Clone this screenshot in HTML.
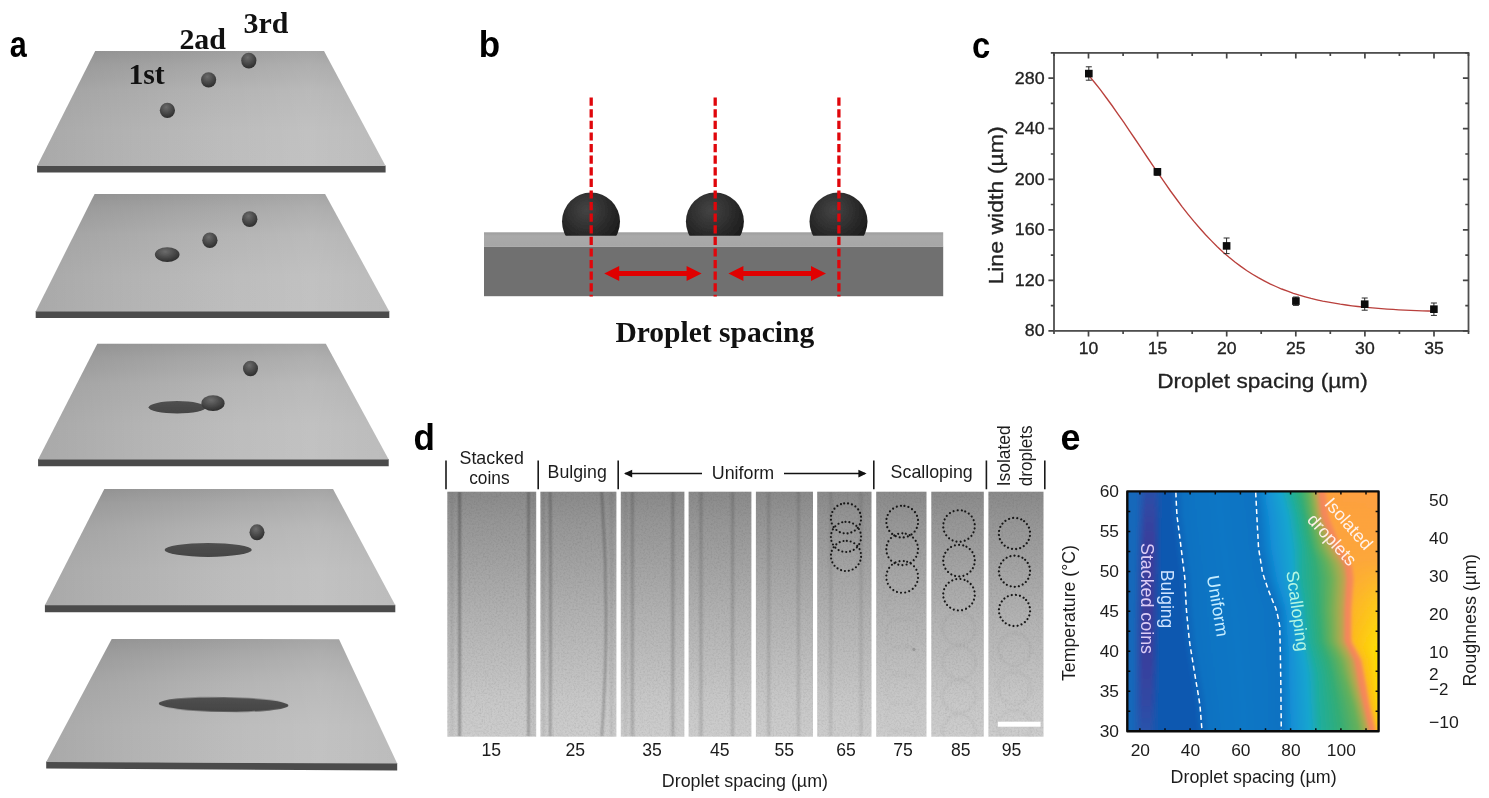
<!DOCTYPE html>
<html lang="en"><head><meta charset="utf-8"><title>Inkjet droplet spacing figure</title>
<style>
html,body{margin:0;padding:0;background:#fff;}
body{width:1489px;height:798px;overflow:hidden;font-family:"Liberation Sans",sans-serif;}
svg{display:block;}
</style></head><body>
<svg width="1489" height="798" viewBox="0 0 1489 798">
<defs>
<linearGradient id="plateV" x1="0" y1="0" x2="0" y2="1"><stop offset="0" stop-color="#9d9d9d"/><stop offset="0.12" stop-color="#a7a7a7"/><stop offset="0.35" stop-color="#b3b3b3"/><stop offset="0.7" stop-color="#bbbbbb"/><stop offset="1" stop-color="#bcbcbc"/></linearGradient>
<linearGradient id="plateH" x1="0" y1="0" x2="1" y2="0"><stop offset="0" stop-color="#000" stop-opacity="0.10"/><stop offset="0.4" stop-color="#000" stop-opacity="0.02"/><stop offset="0.55" stop-color="#fff" stop-opacity="0.02"/><stop offset="0.78" stop-color="#fff" stop-opacity="0.09"/><stop offset="1" stop-color="#fff" stop-opacity="0.0"/></linearGradient>
<radialGradient id="ball" cx="0.42" cy="0.3" r="0.72"><stop offset="0" stop-color="#6c6c6c"/><stop offset="0.5" stop-color="#4c4c4c"/><stop offset="1" stop-color="#2c2c2c"/></radialGradient>
<linearGradient id="flat" x1="0" y1="0" x2="0" y2="1"><stop offset="0" stop-color="#505050"/><stop offset="1" stop-color="#444444"/></linearGradient>
<filter id="soft" x="-5%" y="-5%" width="110%" height="110%"><feGaussianBlur stdDeviation="0.6"/></filter>
<filter id="soft4" x="-5%" y="-5%" width="110%" height="110%"><feGaussianBlur stdDeviation="0.45"/></filter>
<radialGradient id="dome" cx="0.42" cy="0.3" r="0.75"><stop offset="0" stop-color="#444444"/><stop offset="0.55" stop-color="#2a2a2a"/><stop offset="1" stop-color="#161616"/></radialGradient>
<clipPath id="domeclip"><rect x="470" y="150" width="500" height="85.8"/></clipPath>
<linearGradient id="subTop" x1="0" y1="0" x2="0" y2="1"><stop offset="0" stop-color="#9c9c9c"/><stop offset="0.25" stop-color="#a9a9a9"/><stop offset="1" stop-color="#a6a6a6"/></linearGradient>
<linearGradient id="stripG" x1="0" y1="0" x2="0" y2="1"><stop offset="0" stop-color="#8a8a8a"/><stop offset="0.12" stop-color="#969696"/><stop offset="0.5" stop-color="#b2b2b2"/><stop offset="0.85" stop-color="#c8c8c8"/><stop offset="1" stop-color="#cdcdcd"/></linearGradient>
<filter id="grain" x="0" y="0" width="100%" height="100%"><feTurbulence type="fractalNoise" baseFrequency="0.55" numOctaves="2" seed="7" result="n"/><feColorMatrix in="n" type="matrix" values="0 0 0 0 0.5  0 0 0 0 0.5  0 0 0 0 0.5  0.9 0.9 0 0 -0.78"/></filter>
<filter id="lblur" x="-20%" y="-2%" width="140%" height="104%"><feGaussianBlur stdDeviation="1.0 0.4"/></filter>
<filter id="cblur" x="-10%" y="-10%" width="120%" height="120%"><feGaussianBlur stdDeviation="1.1"/></filter>
<filter id="lblur2" x="-20%" y="-2%" width="140%" height="104%"><feGaussianBlur stdDeviation="1.3 0.4"/></filter>
<clipPath id="clip7"><rect x="876.2" y="491.7" width="50.3" height="245"/></clipPath>
<clipPath id="clip8"><rect x="931.3" y="491.7" width="52.5" height="245"/></clipPath>
<clipPath id="clip9"><rect x="988.4" y="491.7" width="55.1" height="245"/></clipPath>
<clipPath id="stripclip"><rect x="447.3" y="491.7" width="88.9" height="245.0"/><rect x="540.4" y="491.7" width="76.0" height="245.0"/><rect x="620.8" y="491.7" width="63.6" height="245.0"/><rect x="688.6" y="491.7" width="62.8" height="245.0"/><rect x="755.9" y="491.7" width="57.1" height="245.0"/><rect x="817.2" y="491.7" width="54.3" height="245.0"/><rect x="876.2" y="491.7" width="50.3" height="245.0"/><rect x="931.3" y="491.7" width="52.5" height="245.0"/><rect x="988.4" y="491.7" width="55.1" height="245.0"/></clipPath>
<linearGradient id="e0" gradientUnits="userSpaceOnUse" x1="1127.3" y1="0" x2="1378.6" y2="0"><stop offset="0.0000" stop-color="#1867ba"/><stop offset="0.0373" stop-color="#1867ba"/><stop offset="0.0751" stop-color="#2b4fa8"/><stop offset="0.1049" stop-color="#2b4fa8"/><stop offset="0.1407" stop-color="#0f58b0"/><stop offset="0.1694" stop-color="#0f58b0"/><stop offset="0.2251" stop-color="#0b72c2"/><stop offset="0.3629" stop-color="#0977c5"/><stop offset="0.5127" stop-color="#0b72c2"/><stop offset="0.5548" stop-color="#1390d6"/><stop offset="0.6104" stop-color="#17a6cf"/><stop offset="0.6518" stop-color="#1fae9c"/><stop offset="0.6888" stop-color="#32ae76"/><stop offset="0.7219" stop-color="#66b05a"/><stop offset="0.7416" stop-color="#9aae50"/><stop offset="0.7533" stop-color="#c4a250"/><stop offset="0.7672" stop-color="#f5865a"/><stop offset="0.7835" stop-color="#f98c56"/><stop offset="0.7959" stop-color="#ffa13e"/><stop offset="1.0000" stop-color="#ffa040"/></linearGradient>
<linearGradient id="e1" gradientUnits="userSpaceOnUse" x1="1127.3" y1="0" x2="1378.6" y2="0"><stop offset="0.0000" stop-color="#1867ba"/><stop offset="0.0370" stop-color="#1867ba"/><stop offset="0.0748" stop-color="#2c4ea7"/><stop offset="0.1047" stop-color="#2c4ea7"/><stop offset="0.1405" stop-color="#0f58b0"/><stop offset="0.1700" stop-color="#0f58b0"/><stop offset="0.2257" stop-color="#0b72c2"/><stop offset="0.3638" stop-color="#0977c5"/><stop offset="0.5137" stop-color="#0b72c2"/><stop offset="0.5568" stop-color="#1390d6"/><stop offset="0.6134" stop-color="#17a6cf"/><stop offset="0.6548" stop-color="#1fae9c"/><stop offset="0.6911" stop-color="#32ae76"/><stop offset="0.7234" stop-color="#66b05a"/><stop offset="0.7431" stop-color="#9aae50"/><stop offset="0.7548" stop-color="#c4a250"/><stop offset="0.7687" stop-color="#f5865a"/><stop offset="0.7851" stop-color="#f98c56"/><stop offset="0.7974" stop-color="#ffa13e"/><stop offset="1.0000" stop-color="#ffa13f"/></linearGradient>
<linearGradient id="e2" gradientUnits="userSpaceOnUse" x1="1127.3" y1="0" x2="1378.6" y2="0"><stop offset="0.0000" stop-color="#1867ba"/><stop offset="0.0368" stop-color="#1867ba"/><stop offset="0.0746" stop-color="#2d4ca6"/><stop offset="0.1044" stop-color="#2d4ca6"/><stop offset="0.1402" stop-color="#0f58b0"/><stop offset="0.1706" stop-color="#0f58b0"/><stop offset="0.2263" stop-color="#0b72c2"/><stop offset="0.3646" stop-color="#0977c5"/><stop offset="0.5148" stop-color="#0b72c2"/><stop offset="0.5589" stop-color="#1390d6"/><stop offset="0.6165" stop-color="#17a6cf"/><stop offset="0.6578" stop-color="#1fae9c"/><stop offset="0.6934" stop-color="#32ae76"/><stop offset="0.7249" stop-color="#66b05a"/><stop offset="0.7446" stop-color="#9aae50"/><stop offset="0.7562" stop-color="#c4a250"/><stop offset="0.7702" stop-color="#f5865a"/><stop offset="0.7866" stop-color="#f98c56"/><stop offset="0.7989" stop-color="#ffa23e"/><stop offset="1.0000" stop-color="#ffa13f"/></linearGradient>
<linearGradient id="e3" gradientUnits="userSpaceOnUse" x1="1127.3" y1="0" x2="1378.6" y2="0"><stop offset="0.0000" stop-color="#1867ba"/><stop offset="0.0365" stop-color="#1867ba"/><stop offset="0.0743" stop-color="#2f4ba5"/><stop offset="0.1042" stop-color="#2f4ba5"/><stop offset="0.1400" stop-color="#0f58b0"/><stop offset="0.1711" stop-color="#0f58b0"/><stop offset="0.2269" stop-color="#0b72c2"/><stop offset="0.3654" stop-color="#0977c5"/><stop offset="0.5158" stop-color="#0b72c2"/><stop offset="0.5609" stop-color="#1390d6"/><stop offset="0.6195" stop-color="#17a6cf"/><stop offset="0.6608" stop-color="#1fae9c"/><stop offset="0.6956" stop-color="#32ae76"/><stop offset="0.7264" stop-color="#66b05a"/><stop offset="0.7461" stop-color="#9aae50"/><stop offset="0.7577" stop-color="#c4a250"/><stop offset="0.7717" stop-color="#f5865a"/><stop offset="0.7881" stop-color="#f98c56"/><stop offset="0.8005" stop-color="#ffa23d"/><stop offset="1.0000" stop-color="#ffa13f"/></linearGradient>
<linearGradient id="e4" gradientUnits="userSpaceOnUse" x1="1127.3" y1="0" x2="1378.6" y2="0"><stop offset="0.0000" stop-color="#1867ba"/><stop offset="0.0363" stop-color="#1867ba"/><stop offset="0.0741" stop-color="#304aa4"/><stop offset="0.1039" stop-color="#304aa4"/><stop offset="0.1397" stop-color="#0f58b0"/><stop offset="0.1717" stop-color="#0f58b0"/><stop offset="0.2274" stop-color="#0b72c2"/><stop offset="0.3662" stop-color="#0977c5"/><stop offset="0.5169" stop-color="#0b72c2"/><stop offset="0.5629" stop-color="#1390d6"/><stop offset="0.6225" stop-color="#17a6cf"/><stop offset="0.6639" stop-color="#1fae9c"/><stop offset="0.6979" stop-color="#32ae76"/><stop offset="0.7280" stop-color="#66b05a"/><stop offset="0.7476" stop-color="#9aae50"/><stop offset="0.7592" stop-color="#c4a250"/><stop offset="0.7732" stop-color="#f5865a"/><stop offset="0.7897" stop-color="#f98c56"/><stop offset="0.8020" stop-color="#ffa23d"/><stop offset="1.0000" stop-color="#ffa23e"/></linearGradient>
<linearGradient id="e5" gradientUnits="userSpaceOnUse" x1="1127.3" y1="0" x2="1378.6" y2="0"><stop offset="0.0000" stop-color="#1867ba"/><stop offset="0.0360" stop-color="#1867ba"/><stop offset="0.0738" stop-color="#3149a3"/><stop offset="0.1037" stop-color="#3149a3"/><stop offset="0.1395" stop-color="#0f58b0"/><stop offset="0.1723" stop-color="#0f58b0"/><stop offset="0.2280" stop-color="#0b72c2"/><stop offset="0.3670" stop-color="#0977c5"/><stop offset="0.5179" stop-color="#0b72c2"/><stop offset="0.5650" stop-color="#1390d6"/><stop offset="0.6255" stop-color="#17a6cf"/><stop offset="0.6669" stop-color="#1fae9c"/><stop offset="0.7002" stop-color="#32ae76"/><stop offset="0.7295" stop-color="#66b05a"/><stop offset="0.7491" stop-color="#9aae50"/><stop offset="0.7607" stop-color="#c4a250"/><stop offset="0.7747" stop-color="#f5865a"/><stop offset="0.7912" stop-color="#f98c56"/><stop offset="0.8035" stop-color="#ffa23d"/><stop offset="1.0000" stop-color="#ffa23e"/></linearGradient>
<linearGradient id="e6" gradientUnits="userSpaceOnUse" x1="1127.3" y1="0" x2="1378.6" y2="0"><stop offset="0.0000" stop-color="#1867ba"/><stop offset="0.0358" stop-color="#1867ba"/><stop offset="0.0736" stop-color="#3247a3"/><stop offset="0.1034" stop-color="#3247a3"/><stop offset="0.1392" stop-color="#0f58b0"/><stop offset="0.1729" stop-color="#0f58b0"/><stop offset="0.2286" stop-color="#0b72c2"/><stop offset="0.3678" stop-color="#0977c5"/><stop offset="0.5190" stop-color="#0b72c2"/><stop offset="0.5670" stop-color="#1390d6"/><stop offset="0.6285" stop-color="#17a6cf"/><stop offset="0.6699" stop-color="#1fae9c"/><stop offset="0.7024" stop-color="#32ae76"/><stop offset="0.7310" stop-color="#66b05a"/><stop offset="0.7506" stop-color="#9aae50"/><stop offset="0.7622" stop-color="#c4a250"/><stop offset="0.7762" stop-color="#f5865a"/><stop offset="0.7927" stop-color="#f98c56"/><stop offset="0.8050" stop-color="#ffa23d"/><stop offset="1.0000" stop-color="#ffa23e"/></linearGradient>
<linearGradient id="e7" gradientUnits="userSpaceOnUse" x1="1127.3" y1="0" x2="1378.6" y2="0"><stop offset="0.0000" stop-color="#1867ba"/><stop offset="0.0355" stop-color="#1867ba"/><stop offset="0.0733" stop-color="#3346a2"/><stop offset="0.1032" stop-color="#3346a2"/><stop offset="0.1390" stop-color="#0f58b0"/><stop offset="0.1734" stop-color="#0f58b0"/><stop offset="0.2291" stop-color="#0b72c2"/><stop offset="0.3686" stop-color="#0977c5"/><stop offset="0.5201" stop-color="#0b72c2"/><stop offset="0.5690" stop-color="#1390d6"/><stop offset="0.6315" stop-color="#17a6cf"/><stop offset="0.6729" stop-color="#1fae9c"/><stop offset="0.7047" stop-color="#32ae76"/><stop offset="0.7326" stop-color="#66b05a"/><stop offset="0.7521" stop-color="#9aae50"/><stop offset="0.7636" stop-color="#c4a250"/><stop offset="0.7777" stop-color="#f5865a"/><stop offset="0.7942" stop-color="#f98c56"/><stop offset="0.8066" stop-color="#ffa33d"/><stop offset="1.0000" stop-color="#ffa33d"/></linearGradient>
<linearGradient id="e8" gradientUnits="userSpaceOnUse" x1="1127.3" y1="0" x2="1378.6" y2="0"><stop offset="0.0000" stop-color="#1867ba"/><stop offset="0.0353" stop-color="#1867ba"/><stop offset="0.0731" stop-color="#3445a1"/><stop offset="0.1029" stop-color="#3445a1"/><stop offset="0.1387" stop-color="#0f58b0"/><stop offset="0.1742" stop-color="#0f58b0"/><stop offset="0.2299" stop-color="#0b72c2"/><stop offset="0.3695" stop-color="#0977c5"/><stop offset="0.5211" stop-color="#0b72c2"/><stop offset="0.5708" stop-color="#1390d6"/><stop offset="0.6342" stop-color="#17a6cf"/><stop offset="0.6756" stop-color="#1fae9c"/><stop offset="0.7070" stop-color="#32ae76"/><stop offset="0.7344" stop-color="#66b05a"/><stop offset="0.7541" stop-color="#9aae50"/><stop offset="0.7658" stop-color="#c4a250"/><stop offset="0.7799" stop-color="#f5865a"/><stop offset="0.7964" stop-color="#f98c56"/><stop offset="0.8087" stop-color="#ffa33c"/><stop offset="1.0000" stop-color="#ffa33d"/></linearGradient>
<linearGradient id="e9" gradientUnits="userSpaceOnUse" x1="1127.3" y1="0" x2="1378.6" y2="0"><stop offset="0.0000" stop-color="#1867ba"/><stop offset="0.0350" stop-color="#1867ba"/><stop offset="0.0728" stop-color="#3444a0"/><stop offset="0.1027" stop-color="#3444a0"/><stop offset="0.1385" stop-color="#0f58b0"/><stop offset="0.1758" stop-color="#0f58b0"/><stop offset="0.2315" stop-color="#0b72c2"/><stop offset="0.3708" stop-color="#0977c5"/><stop offset="0.5220" stop-color="#0b72c2"/><stop offset="0.5719" stop-color="#1390d6"/><stop offset="0.6357" stop-color="#17a6cf"/><stop offset="0.6774" stop-color="#1fae9c"/><stop offset="0.7094" stop-color="#32ae76"/><stop offset="0.7373" stop-color="#66b05a"/><stop offset="0.7579" stop-color="#9aae50"/><stop offset="0.7705" stop-color="#c4a250"/><stop offset="0.7847" stop-color="#f5865a"/><stop offset="0.8012" stop-color="#f98c56"/><stop offset="0.8135" stop-color="#ffa33c"/><stop offset="1.0000" stop-color="#ffa33d"/></linearGradient>
<linearGradient id="e10" gradientUnits="userSpaceOnUse" x1="1127.3" y1="0" x2="1378.6" y2="0"><stop offset="0.0000" stop-color="#1867ba"/><stop offset="0.0348" stop-color="#1867ba"/><stop offset="0.0726" stop-color="#3543a0"/><stop offset="0.1024" stop-color="#3543a0"/><stop offset="0.1382" stop-color="#0f58b0"/><stop offset="0.1773" stop-color="#0f58b0"/><stop offset="0.2330" stop-color="#0b72c2"/><stop offset="0.3720" stop-color="#0977c5"/><stop offset="0.5230" stop-color="#0b72c2"/><stop offset="0.5730" stop-color="#1390d6"/><stop offset="0.6372" stop-color="#17a6cf"/><stop offset="0.6792" stop-color="#1fae9c"/><stop offset="0.7118" stop-color="#32ae76"/><stop offset="0.7403" stop-color="#66b05a"/><stop offset="0.7618" stop-color="#9aae50"/><stop offset="0.7753" stop-color="#c4a250"/><stop offset="0.7894" stop-color="#f5865a"/><stop offset="0.8059" stop-color="#f98c56"/><stop offset="0.8183" stop-color="#ffa33c"/><stop offset="1.0000" stop-color="#ffa43c"/></linearGradient>
<linearGradient id="e11" gradientUnits="userSpaceOnUse" x1="1127.3" y1="0" x2="1378.6" y2="0"><stop offset="0.0000" stop-color="#1867ba"/><stop offset="0.0345" stop-color="#1867ba"/><stop offset="0.0723" stop-color="#36429f"/><stop offset="0.1022" stop-color="#36429f"/><stop offset="0.1380" stop-color="#0f58b0"/><stop offset="0.1789" stop-color="#0f58b0"/><stop offset="0.2346" stop-color="#0b72c2"/><stop offset="0.3733" stop-color="#0977c5"/><stop offset="0.5239" stop-color="#0b72c2"/><stop offset="0.5740" stop-color="#1390d6"/><stop offset="0.6386" stop-color="#17a6cf"/><stop offset="0.6810" stop-color="#1fae9c"/><stop offset="0.7141" stop-color="#32ae76"/><stop offset="0.7433" stop-color="#66b05a"/><stop offset="0.7656" stop-color="#9aae50"/><stop offset="0.7800" stop-color="#c4a250"/><stop offset="0.7942" stop-color="#f5865a"/><stop offset="0.8107" stop-color="#f98c56"/><stop offset="0.8230" stop-color="#ffa43c"/><stop offset="1.0000" stop-color="#ffa43c"/></linearGradient>
<linearGradient id="e12" gradientUnits="userSpaceOnUse" x1="1127.3" y1="0" x2="1378.6" y2="0"><stop offset="0.0000" stop-color="#1867ba"/><stop offset="0.0343" stop-color="#1867ba"/><stop offset="0.0721" stop-color="#36429e"/><stop offset="0.1019" stop-color="#36429e"/><stop offset="0.1377" stop-color="#0f58b0"/><stop offset="0.1804" stop-color="#0f58b0"/><stop offset="0.2362" stop-color="#0b72c2"/><stop offset="0.3745" stop-color="#0977c5"/><stop offset="0.5249" stop-color="#0b72c2"/><stop offset="0.5751" stop-color="#1390d6"/><stop offset="0.6401" stop-color="#17a6cf"/><stop offset="0.6828" stop-color="#1fae9c"/><stop offset="0.7165" stop-color="#32ae76"/><stop offset="0.7462" stop-color="#66b05a"/><stop offset="0.7695" stop-color="#9aae50"/><stop offset="0.7848" stop-color="#c4a250"/><stop offset="0.7989" stop-color="#f5865a"/><stop offset="0.8154" stop-color="#f98c56"/><stop offset="0.8278" stop-color="#ffa43c"/><stop offset="1.0000" stop-color="#ffa43c"/></linearGradient>
<linearGradient id="e13" gradientUnits="userSpaceOnUse" x1="1127.3" y1="0" x2="1378.6" y2="0"><stop offset="0.0000" stop-color="#1867ba"/><stop offset="0.0340" stop-color="#1867ba"/><stop offset="0.0718" stop-color="#37419e"/><stop offset="0.1017" stop-color="#37419e"/><stop offset="0.1375" stop-color="#0f58b0"/><stop offset="0.1820" stop-color="#0f58b0"/><stop offset="0.2377" stop-color="#0b72c2"/><stop offset="0.3758" stop-color="#0977c5"/><stop offset="0.5258" stop-color="#0b72c2"/><stop offset="0.5762" stop-color="#1390d6"/><stop offset="0.6416" stop-color="#17a6cf"/><stop offset="0.6846" stop-color="#1fae9c"/><stop offset="0.7189" stop-color="#32ae76"/><stop offset="0.7492" stop-color="#66b05a"/><stop offset="0.7733" stop-color="#9aae50"/><stop offset="0.7895" stop-color="#c4a250"/><stop offset="0.8037" stop-color="#f5865a"/><stop offset="0.8202" stop-color="#f98c56"/><stop offset="0.8325" stop-color="#ffa43c"/><stop offset="1.0000" stop-color="#ffa53b"/></linearGradient>
<linearGradient id="e14" gradientUnits="userSpaceOnUse" x1="1127.3" y1="0" x2="1378.6" y2="0"><stop offset="0.0000" stop-color="#1867ba"/><stop offset="0.0338" stop-color="#1867ba"/><stop offset="0.0716" stop-color="#38409d"/><stop offset="0.1014" stop-color="#38409d"/><stop offset="0.1372" stop-color="#0f58b0"/><stop offset="0.1836" stop-color="#0f58b0"/><stop offset="0.2393" stop-color="#0b72c2"/><stop offset="0.3771" stop-color="#0977c5"/><stop offset="0.5268" stop-color="#0b72c2"/><stop offset="0.5772" stop-color="#1390d6"/><stop offset="0.6431" stop-color="#17a6cf"/><stop offset="0.6864" stop-color="#1fae9c"/><stop offset="0.7213" stop-color="#32ae76"/><stop offset="0.7522" stop-color="#66b05a"/><stop offset="0.7772" stop-color="#9aae50"/><stop offset="0.7943" stop-color="#c4a250"/><stop offset="0.8084" stop-color="#f5865a"/><stop offset="0.8249" stop-color="#f98c56"/><stop offset="0.8373" stop-color="#ffa43b"/><stop offset="1.0000" stop-color="#ffa53b"/></linearGradient>
<linearGradient id="e15" gradientUnits="userSpaceOnUse" x1="1127.3" y1="0" x2="1378.6" y2="0"><stop offset="0.0000" stop-color="#1867ba"/><stop offset="0.0335" stop-color="#1867ba"/><stop offset="0.0713" stop-color="#383f9c"/><stop offset="0.1011" stop-color="#383f9c"/><stop offset="0.1370" stop-color="#0f58b0"/><stop offset="0.1851" stop-color="#0f58b0"/><stop offset="0.2408" stop-color="#0b72c2"/><stop offset="0.3783" stop-color="#0977c5"/><stop offset="0.5277" stop-color="#0b72c2"/><stop offset="0.5783" stop-color="#1390d6"/><stop offset="0.6446" stop-color="#17a6cf"/><stop offset="0.6882" stop-color="#1fae9c"/><stop offset="0.7236" stop-color="#32ae76"/><stop offset="0.7551" stop-color="#66b05a"/><stop offset="0.7811" stop-color="#9aae50"/><stop offset="0.7990" stop-color="#c4a250"/><stop offset="0.8132" stop-color="#f5865a"/><stop offset="0.8297" stop-color="#f98c56"/><stop offset="0.8420" stop-color="#ffa43b"/><stop offset="1.0000" stop-color="#ffa53b"/></linearGradient>
<linearGradient id="e16" gradientUnits="userSpaceOnUse" x1="1127.3" y1="0" x2="1378.6" y2="0"><stop offset="0.0000" stop-color="#1867ba"/><stop offset="0.0332" stop-color="#1867ba"/><stop offset="0.0711" stop-color="#393e9c"/><stop offset="0.1009" stop-color="#393e9c"/><stop offset="0.1367" stop-color="#0f58b0"/><stop offset="0.1867" stop-color="#0f58b0"/><stop offset="0.2424" stop-color="#0b72c2"/><stop offset="0.3796" stop-color="#0977c5"/><stop offset="0.5287" stop-color="#0b72c2"/><stop offset="0.5794" stop-color="#1390d6"/><stop offset="0.6461" stop-color="#17a6cf"/><stop offset="0.6899" stop-color="#1fae9c"/><stop offset="0.7260" stop-color="#32ae76"/><stop offset="0.7581" stop-color="#66b05a"/><stop offset="0.7849" stop-color="#9aae50"/><stop offset="0.8038" stop-color="#c4a250"/><stop offset="0.8179" stop-color="#f5865a"/><stop offset="0.8344" stop-color="#f98c56"/><stop offset="0.8468" stop-color="#ffa53b"/><stop offset="1.0000" stop-color="#ffa63a"/></linearGradient>
<linearGradient id="e17" gradientUnits="userSpaceOnUse" x1="1127.3" y1="0" x2="1378.6" y2="0"><stop offset="0.0000" stop-color="#1867ba"/><stop offset="0.0330" stop-color="#1867ba"/><stop offset="0.0708" stop-color="#3a3d9b"/><stop offset="0.1006" stop-color="#3a3d9b"/><stop offset="0.1365" stop-color="#0f58b0"/><stop offset="0.1882" stop-color="#0f58b0"/><stop offset="0.2439" stop-color="#0b72c2"/><stop offset="0.3808" stop-color="#0977c5"/><stop offset="0.5296" stop-color="#0b72c2"/><stop offset="0.5804" stop-color="#1390d6"/><stop offset="0.6475" stop-color="#17a6cf"/><stop offset="0.6917" stop-color="#1fae9c"/><stop offset="0.7284" stop-color="#32ae76"/><stop offset="0.7611" stop-color="#66b05a"/><stop offset="0.7888" stop-color="#9aae50"/><stop offset="0.8085" stop-color="#c4a250"/><stop offset="0.8227" stop-color="#f5865a"/><stop offset="0.8392" stop-color="#f98c56"/><stop offset="0.8515" stop-color="#ffa53b"/><stop offset="1.0000" stop-color="#ffa63a"/></linearGradient>
<linearGradient id="e18" gradientUnits="userSpaceOnUse" x1="1127.3" y1="0" x2="1378.6" y2="0"><stop offset="0.0000" stop-color="#1867ba"/><stop offset="0.0327" stop-color="#1867ba"/><stop offset="0.0705" stop-color="#3a3d9b"/><stop offset="0.1004" stop-color="#3a3d9b"/><stop offset="0.1362" stop-color="#0f58b0"/><stop offset="0.1898" stop-color="#0f58b0"/><stop offset="0.2455" stop-color="#0b72c2"/><stop offset="0.3821" stop-color="#0977c5"/><stop offset="0.5306" stop-color="#0b72c2"/><stop offset="0.5815" stop-color="#1390d6"/><stop offset="0.6490" stop-color="#17a6cf"/><stop offset="0.6935" stop-color="#1fae9c"/><stop offset="0.7308" stop-color="#32ae76"/><stop offset="0.7640" stop-color="#66b05a"/><stop offset="0.7926" stop-color="#9aae50"/><stop offset="0.8133" stop-color="#c4a250"/><stop offset="0.8274" stop-color="#f5865a"/><stop offset="0.8439" stop-color="#f98c56"/><stop offset="0.8563" stop-color="#ffa53b"/><stop offset="1.0000" stop-color="#ffa63a"/></linearGradient>
<linearGradient id="e19" gradientUnits="userSpaceOnUse" x1="1127.3" y1="0" x2="1378.6" y2="0"><stop offset="0.0000" stop-color="#1867ba"/><stop offset="0.0325" stop-color="#1867ba"/><stop offset="0.0703" stop-color="#3a3d9b"/><stop offset="0.1001" stop-color="#3a3d9b"/><stop offset="0.1360" stop-color="#0f58b0"/><stop offset="0.1913" stop-color="#0f58b0"/><stop offset="0.2470" stop-color="#0b72c2"/><stop offset="0.3838" stop-color="#0977c5"/><stop offset="0.5326" stop-color="#0b72c2"/><stop offset="0.5833" stop-color="#1390d6"/><stop offset="0.6501" stop-color="#17a6cf"/><stop offset="0.6940" stop-color="#1fae9c"/><stop offset="0.7336" stop-color="#32ae76"/><stop offset="0.7692" stop-color="#66b05a"/><stop offset="0.7984" stop-color="#9aae50"/><stop offset="0.8197" stop-color="#c4a250"/><stop offset="0.8338" stop-color="#f5865a"/><stop offset="0.8503" stop-color="#f98c56"/><stop offset="0.8627" stop-color="#ffa53b"/><stop offset="1.0000" stop-color="#ffa739"/></linearGradient>
<linearGradient id="e20" gradientUnits="userSpaceOnUse" x1="1127.3" y1="0" x2="1378.6" y2="0"><stop offset="0.0000" stop-color="#1867ba"/><stop offset="0.0322" stop-color="#1867ba"/><stop offset="0.0700" stop-color="#3a3d9b"/><stop offset="0.0999" stop-color="#3a3d9b"/><stop offset="0.1357" stop-color="#0f58b0"/><stop offset="0.1927" stop-color="#0f58b0"/><stop offset="0.2484" stop-color="#0b72c2"/><stop offset="0.3857" stop-color="#0977c5"/><stop offset="0.5349" stop-color="#0b72c2"/><stop offset="0.5854" stop-color="#1390d6"/><stop offset="0.6510" stop-color="#17a6cf"/><stop offset="0.6940" stop-color="#1fae9c"/><stop offset="0.7366" stop-color="#32ae76"/><stop offset="0.7752" stop-color="#66b05a"/><stop offset="0.8049" stop-color="#9aae50"/><stop offset="0.8267" stop-color="#c4a250"/><stop offset="0.8408" stop-color="#f5865a"/><stop offset="0.8573" stop-color="#f98c56"/><stop offset="0.8696" stop-color="#ffa53a"/><stop offset="1.0000" stop-color="#ffa739"/></linearGradient>
<linearGradient id="e21" gradientUnits="userSpaceOnUse" x1="1127.3" y1="0" x2="1378.6" y2="0"><stop offset="0.0000" stop-color="#1867ba"/><stop offset="0.0320" stop-color="#1867ba"/><stop offset="0.0698" stop-color="#3a3d9b"/><stop offset="0.0996" stop-color="#3a3d9b"/><stop offset="0.1355" stop-color="#0f58b0"/><stop offset="0.1942" stop-color="#0f58b0"/><stop offset="0.2499" stop-color="#0b72c2"/><stop offset="0.3876" stop-color="#0977c5"/><stop offset="0.5373" stop-color="#0b72c2"/><stop offset="0.5875" stop-color="#1390d6"/><stop offset="0.6519" stop-color="#17a6cf"/><stop offset="0.6940" stop-color="#1fae9c"/><stop offset="0.7396" stop-color="#32ae76"/><stop offset="0.7811" stop-color="#66b05a"/><stop offset="0.8114" stop-color="#9aae50"/><stop offset="0.8337" stop-color="#c4a250"/><stop offset="0.8478" stop-color="#f5865a"/><stop offset="0.8643" stop-color="#f98c56"/><stop offset="0.8766" stop-color="#ffa63a"/><stop offset="1.0000" stop-color="#ffa838"/></linearGradient>
<linearGradient id="e22" gradientUnits="userSpaceOnUse" x1="1127.3" y1="0" x2="1378.6" y2="0"><stop offset="0.0000" stop-color="#1867ba"/><stop offset="0.0317" stop-color="#1867ba"/><stop offset="0.0695" stop-color="#3a3d9b"/><stop offset="0.0994" stop-color="#3a3d9b"/><stop offset="0.1352" stop-color="#0f58b0"/><stop offset="0.1956" stop-color="#0f58b0"/><stop offset="0.2513" stop-color="#0b72c2"/><stop offset="0.3895" stop-color="#0977c5"/><stop offset="0.5397" stop-color="#0b72c2"/><stop offset="0.5895" stop-color="#1390d6"/><stop offset="0.6528" stop-color="#17a6cf"/><stop offset="0.6940" stop-color="#1fae9c"/><stop offset="0.7425" stop-color="#32ae76"/><stop offset="0.7871" stop-color="#66b05a"/><stop offset="0.8179" stop-color="#9aae50"/><stop offset="0.8406" stop-color="#c4a250"/><stop offset="0.8548" stop-color="#f5865a"/><stop offset="0.8713" stop-color="#f98c56"/><stop offset="0.8836" stop-color="#ffa63a"/><stop offset="1.0000" stop-color="#ffa838"/></linearGradient>
<linearGradient id="e23" gradientUnits="userSpaceOnUse" x1="1127.3" y1="0" x2="1378.6" y2="0"><stop offset="0.0000" stop-color="#1867ba"/><stop offset="0.0315" stop-color="#1867ba"/><stop offset="0.0693" stop-color="#3a3d9b"/><stop offset="0.0991" stop-color="#3a3d9b"/><stop offset="0.1350" stop-color="#0f58b0"/><stop offset="0.1971" stop-color="#0f58b0"/><stop offset="0.2528" stop-color="#0b72c2"/><stop offset="0.3914" stop-color="#0977c5"/><stop offset="0.5420" stop-color="#0b72c2"/><stop offset="0.5916" stop-color="#1390d6"/><stop offset="0.6537" stop-color="#17a6cf"/><stop offset="0.6940" stop-color="#1fae9c"/><stop offset="0.7455" stop-color="#32ae76"/><stop offset="0.7931" stop-color="#66b05a"/><stop offset="0.8243" stop-color="#9aae50"/><stop offset="0.8476" stop-color="#c4a250"/><stop offset="0.8618" stop-color="#f5865a"/><stop offset="0.8783" stop-color="#f98c56"/><stop offset="0.8906" stop-color="#ffa739"/><stop offset="1.0000" stop-color="#ffaa37"/></linearGradient>
<linearGradient id="e24" gradientUnits="userSpaceOnUse" x1="1127.3" y1="0" x2="1378.6" y2="0"><stop offset="0.0000" stop-color="#1867ba"/><stop offset="0.0312" stop-color="#1867ba"/><stop offset="0.0690" stop-color="#3a3d9b"/><stop offset="0.0989" stop-color="#3a3d9b"/><stop offset="0.1347" stop-color="#0f58b0"/><stop offset="0.1985" stop-color="#0f58b0"/><stop offset="0.2542" stop-color="#0b72c2"/><stop offset="0.3933" stop-color="#0977c5"/><stop offset="0.5444" stop-color="#0b72c2"/><stop offset="0.5937" stop-color="#1390d6"/><stop offset="0.6546" stop-color="#17a6cf"/><stop offset="0.6940" stop-color="#1fae9c"/><stop offset="0.7476" stop-color="#32ae76"/><stop offset="0.7972" stop-color="#66b05a"/><stop offset="0.8299" stop-color="#9aae50"/><stop offset="0.8546" stop-color="#c4a250"/><stop offset="0.8687" stop-color="#f5865a"/><stop offset="0.8853" stop-color="#f98c56"/><stop offset="0.8976" stop-color="#ffa838"/><stop offset="1.0000" stop-color="#ffac35"/></linearGradient>
<linearGradient id="e25" gradientUnits="userSpaceOnUse" x1="1127.3" y1="0" x2="1378.6" y2="0"><stop offset="0.0000" stop-color="#1867ba"/><stop offset="0.0310" stop-color="#1867ba"/><stop offset="0.0688" stop-color="#3a3d9b"/><stop offset="0.0986" stop-color="#3a3d9b"/><stop offset="0.1344" stop-color="#0f58b0"/><stop offset="0.2000" stop-color="#0f58b0"/><stop offset="0.2557" stop-color="#0b72c2"/><stop offset="0.3953" stop-color="#0977c5"/><stop offset="0.5468" stop-color="#0b72c2"/><stop offset="0.5958" stop-color="#1390d6"/><stop offset="0.6555" stop-color="#17a6cf"/><stop offset="0.6940" stop-color="#1fae9c"/><stop offset="0.7488" stop-color="#32ae76"/><stop offset="0.7996" stop-color="#66b05a"/><stop offset="0.8333" stop-color="#9aae50"/><stop offset="0.8590" stop-color="#c4a250"/><stop offset="0.8732" stop-color="#f5865a"/><stop offset="0.8896" stop-color="#f98c56"/><stop offset="0.9020" stop-color="#ffa937"/><stop offset="1.0000" stop-color="#ffae32"/></linearGradient>
<linearGradient id="e26" gradientUnits="userSpaceOnUse" x1="1127.3" y1="0" x2="1378.6" y2="0"><stop offset="0.0000" stop-color="#1867ba"/><stop offset="0.0307" stop-color="#1867ba"/><stop offset="0.0685" stop-color="#3a3d9b"/><stop offset="0.0984" stop-color="#3a3d9b"/><stop offset="0.1342" stop-color="#0f58b0"/><stop offset="0.2014" stop-color="#0f58b0"/><stop offset="0.2571" stop-color="#0b72c2"/><stop offset="0.3972" stop-color="#0977c5"/><stop offset="0.5491" stop-color="#0b72c2"/><stop offset="0.5978" stop-color="#1390d6"/><stop offset="0.6564" stop-color="#17a6cf"/><stop offset="0.6940" stop-color="#1fae9c"/><stop offset="0.7500" stop-color="#32ae76"/><stop offset="0.8020" stop-color="#66b05a"/><stop offset="0.8353" stop-color="#9aae50"/><stop offset="0.8606" stop-color="#c4a250"/><stop offset="0.8746" stop-color="#f5865a"/><stop offset="0.8911" stop-color="#f98c56"/><stop offset="0.9034" stop-color="#ffaa36"/><stop offset="1.0000" stop-color="#ffb130"/></linearGradient>
<linearGradient id="e27" gradientUnits="userSpaceOnUse" x1="1127.3" y1="0" x2="1378.6" y2="0"><stop offset="0.0000" stop-color="#1867ba"/><stop offset="0.0305" stop-color="#1867ba"/><stop offset="0.0683" stop-color="#3a3d9b"/><stop offset="0.0981" stop-color="#3a3d9b"/><stop offset="0.1339" stop-color="#0f58b0"/><stop offset="0.2029" stop-color="#0f58b0"/><stop offset="0.2586" stop-color="#0b72c2"/><stop offset="0.3991" stop-color="#0977c5"/><stop offset="0.5515" stop-color="#0b72c2"/><stop offset="0.5999" stop-color="#1390d6"/><stop offset="0.6573" stop-color="#17a6cf"/><stop offset="0.6940" stop-color="#1fae9c"/><stop offset="0.7512" stop-color="#32ae76"/><stop offset="0.8045" stop-color="#66b05a"/><stop offset="0.8373" stop-color="#9aae50"/><stop offset="0.8621" stop-color="#c4a250"/><stop offset="0.8761" stop-color="#f5865a"/><stop offset="0.8925" stop-color="#f98c56"/><stop offset="0.9048" stop-color="#ffab34"/><stop offset="1.0000" stop-color="#ffb32e"/></linearGradient>
<linearGradient id="e28" gradientUnits="userSpaceOnUse" x1="1127.3" y1="0" x2="1378.6" y2="0"><stop offset="0.0000" stop-color="#1867ba"/><stop offset="0.0302" stop-color="#1867ba"/><stop offset="0.0680" stop-color="#3a3d9b"/><stop offset="0.0979" stop-color="#3a3d9b"/><stop offset="0.1337" stop-color="#0f58b0"/><stop offset="0.2043" stop-color="#0f58b0"/><stop offset="0.2600" stop-color="#0b72c2"/><stop offset="0.4010" stop-color="#0977c5"/><stop offset="0.5539" stop-color="#0b72c2"/><stop offset="0.6020" stop-color="#1390d6"/><stop offset="0.6581" stop-color="#17a6cf"/><stop offset="0.6940" stop-color="#1fae9c"/><stop offset="0.7524" stop-color="#32ae76"/><stop offset="0.8069" stop-color="#66b05a"/><stop offset="0.8392" stop-color="#9aae50"/><stop offset="0.8636" stop-color="#c4a250"/><stop offset="0.8776" stop-color="#f5865a"/><stop offset="0.8939" stop-color="#f98c56"/><stop offset="0.9063" stop-color="#ffac33"/><stop offset="1.0000" stop-color="#ffb62c"/></linearGradient>
<linearGradient id="e29" gradientUnits="userSpaceOnUse" x1="1127.3" y1="0" x2="1378.6" y2="0"><stop offset="0.0000" stop-color="#1867ba"/><stop offset="0.0300" stop-color="#1867ba"/><stop offset="0.0678" stop-color="#3a3d9b"/><stop offset="0.0976" stop-color="#3a3d9b"/><stop offset="0.1334" stop-color="#0f58b0"/><stop offset="0.2055" stop-color="#0f58b0"/><stop offset="0.2612" stop-color="#0b72c2"/><stop offset="0.4030" stop-color="#0977c5"/><stop offset="0.5568" stop-color="#0b72c2"/><stop offset="0.6045" stop-color="#1390d6"/><stop offset="0.6594" stop-color="#17a6cf"/><stop offset="0.6945" stop-color="#1fae9c"/><stop offset="0.7535" stop-color="#32ae76"/><stop offset="0.8084" stop-color="#66b05a"/><stop offset="0.8404" stop-color="#9aae50"/><stop offset="0.8645" stop-color="#c4a250"/><stop offset="0.8784" stop-color="#f5865a"/><stop offset="0.8947" stop-color="#f98c56"/><stop offset="0.9070" stop-color="#ffad32"/><stop offset="1.0000" stop-color="#ffb82a"/></linearGradient>
<linearGradient id="e30" gradientUnits="userSpaceOnUse" x1="1127.3" y1="0" x2="1378.6" y2="0"><stop offset="0.0000" stop-color="#1867ba"/><stop offset="0.0297" stop-color="#1867ba"/><stop offset="0.0675" stop-color="#3a3d9b"/><stop offset="0.0974" stop-color="#3a3d9b"/><stop offset="0.1332" stop-color="#0f58b0"/><stop offset="0.2061" stop-color="#0f58b0"/><stop offset="0.2618" stop-color="#0b72c2"/><stop offset="0.4054" stop-color="#0977c5"/><stop offset="0.5610" stop-color="#0b72c2"/><stop offset="0.6078" stop-color="#1390d6"/><stop offset="0.6615" stop-color="#17a6cf"/><stop offset="0.6963" stop-color="#1fae9c"/><stop offset="0.7541" stop-color="#32ae76"/><stop offset="0.8078" stop-color="#66b05a"/><stop offset="0.8398" stop-color="#9aae50"/><stop offset="0.8639" stop-color="#c4a250"/><stop offset="0.8777" stop-color="#f5865a"/><stop offset="0.8939" stop-color="#f98c56"/><stop offset="0.9062" stop-color="#ffae31"/><stop offset="1.0000" stop-color="#ffba28"/></linearGradient>
<linearGradient id="e31" gradientUnits="userSpaceOnUse" x1="1127.3" y1="0" x2="1378.6" y2="0"><stop offset="0.0000" stop-color="#1867ba"/><stop offset="0.0295" stop-color="#1867ba"/><stop offset="0.0673" stop-color="#3a3d9b"/><stop offset="0.0971" stop-color="#3a3d9b"/><stop offset="0.1329" stop-color="#0f58b0"/><stop offset="0.2066" stop-color="#0f58b0"/><stop offset="0.2624" stop-color="#0b72c2"/><stop offset="0.4078" stop-color="#0977c5"/><stop offset="0.5652" stop-color="#0b72c2"/><stop offset="0.6111" stop-color="#1390d6"/><stop offset="0.6636" stop-color="#17a6cf"/><stop offset="0.6981" stop-color="#1fae9c"/><stop offset="0.7546" stop-color="#32ae76"/><stop offset="0.8072" stop-color="#66b05a"/><stop offset="0.8392" stop-color="#9aae50"/><stop offset="0.8633" stop-color="#c4a250"/><stop offset="0.8770" stop-color="#f5865a"/><stop offset="0.8930" stop-color="#f98c56"/><stop offset="0.9054" stop-color="#ffaf30"/><stop offset="1.0000" stop-color="#ffbd26"/></linearGradient>
<linearGradient id="e32" gradientUnits="userSpaceOnUse" x1="1127.3" y1="0" x2="1378.6" y2="0"><stop offset="0.0000" stop-color="#1867ba"/><stop offset="0.0292" stop-color="#1867ba"/><stop offset="0.0670" stop-color="#3a3d9b"/><stop offset="0.0969" stop-color="#3a3d9b"/><stop offset="0.1327" stop-color="#0f58b0"/><stop offset="0.2072" stop-color="#0f58b0"/><stop offset="0.2629" stop-color="#0b72c2"/><stop offset="0.4102" stop-color="#0977c5"/><stop offset="0.5694" stop-color="#0b72c2"/><stop offset="0.6143" stop-color="#1390d6"/><stop offset="0.6657" stop-color="#17a6cf"/><stop offset="0.6999" stop-color="#1fae9c"/><stop offset="0.7552" stop-color="#32ae76"/><stop offset="0.8066" stop-color="#66b05a"/><stop offset="0.8386" stop-color="#9aae50"/><stop offset="0.8627" stop-color="#c4a250"/><stop offset="0.8762" stop-color="#f5865a"/><stop offset="0.8922" stop-color="#f98c56"/><stop offset="0.9045" stop-color="#ffb02e"/><stop offset="1.0000" stop-color="#ffbf24"/></linearGradient>
<linearGradient id="e33" gradientUnits="userSpaceOnUse" x1="1127.3" y1="0" x2="1378.6" y2="0"><stop offset="0.0000" stop-color="#1867ba"/><stop offset="0.0290" stop-color="#1867ba"/><stop offset="0.0668" stop-color="#3a3d9b"/><stop offset="0.0966" stop-color="#3a3d9b"/><stop offset="0.1324" stop-color="#0f58b0"/><stop offset="0.2078" stop-color="#0f58b0"/><stop offset="0.2635" stop-color="#0b72c2"/><stop offset="0.4126" stop-color="#0977c5"/><stop offset="0.5736" stop-color="#0b72c2"/><stop offset="0.6176" stop-color="#1390d6"/><stop offset="0.6678" stop-color="#17a6cf"/><stop offset="0.7017" stop-color="#1fae9c"/><stop offset="0.7558" stop-color="#32ae76"/><stop offset="0.8060" stop-color="#66b05a"/><stop offset="0.8380" stop-color="#9aae50"/><stop offset="0.8621" stop-color="#c4a250"/><stop offset="0.8755" stop-color="#f5865a"/><stop offset="0.8913" stop-color="#f98c56"/><stop offset="0.9037" stop-color="#ffb12d"/><stop offset="1.0000" stop-color="#ffc222"/></linearGradient>
<linearGradient id="e34" gradientUnits="userSpaceOnUse" x1="1127.3" y1="0" x2="1378.6" y2="0"><stop offset="0.0000" stop-color="#1867ba"/><stop offset="0.0287" stop-color="#1867ba"/><stop offset="0.0665" stop-color="#3a3d9b"/><stop offset="0.0964" stop-color="#3a3d9b"/><stop offset="0.1322" stop-color="#0f58b0"/><stop offset="0.2084" stop-color="#0f58b0"/><stop offset="0.2641" stop-color="#0b72c2"/><stop offset="0.4149" stop-color="#0977c5"/><stop offset="0.5777" stop-color="#0b72c2"/><stop offset="0.6209" stop-color="#1390d6"/><stop offset="0.6699" stop-color="#17a6cf"/><stop offset="0.7035" stop-color="#1fae9c"/><stop offset="0.7564" stop-color="#32ae76"/><stop offset="0.8054" stop-color="#66b05a"/><stop offset="0.8374" stop-color="#9aae50"/><stop offset="0.8615" stop-color="#c4a250"/><stop offset="0.8748" stop-color="#f5865a"/><stop offset="0.8905" stop-color="#f98c56"/><stop offset="0.9028" stop-color="#ffb22c"/><stop offset="1.0000" stop-color="#ffc420"/></linearGradient>
<linearGradient id="e35" gradientUnits="userSpaceOnUse" x1="1127.3" y1="0" x2="1378.6" y2="0"><stop offset="0.0000" stop-color="#1867ba"/><stop offset="0.0285" stop-color="#1867ba"/><stop offset="0.0663" stop-color="#3a3d9b"/><stop offset="0.0961" stop-color="#3a3d9b"/><stop offset="0.1319" stop-color="#0f58b0"/><stop offset="0.2089" stop-color="#0f58b0"/><stop offset="0.2646" stop-color="#0b72c2"/><stop offset="0.4173" stop-color="#0977c5"/><stop offset="0.5819" stop-color="#0b72c2"/><stop offset="0.6242" stop-color="#1390d6"/><stop offset="0.6720" stop-color="#17a6cf"/><stop offset="0.7053" stop-color="#1fae9c"/><stop offset="0.7570" stop-color="#32ae76"/><stop offset="0.8048" stop-color="#66b05a"/><stop offset="0.8368" stop-color="#9aae50"/><stop offset="0.8609" stop-color="#c4a250"/><stop offset="0.8741" stop-color="#f5865a"/><stop offset="0.8897" stop-color="#f98c56"/><stop offset="0.9020" stop-color="#ffb32b"/><stop offset="1.0000" stop-color="#ffc61d"/></linearGradient>
<linearGradient id="e36" gradientUnits="userSpaceOnUse" x1="1127.3" y1="0" x2="1378.6" y2="0"><stop offset="0.0000" stop-color="#1867ba"/><stop offset="0.0282" stop-color="#1867ba"/><stop offset="0.0660" stop-color="#3a3d9b"/><stop offset="0.0959" stop-color="#3a3d9b"/><stop offset="0.1317" stop-color="#0f58b0"/><stop offset="0.2095" stop-color="#0f58b0"/><stop offset="0.2652" stop-color="#0b72c2"/><stop offset="0.4197" stop-color="#0977c5"/><stop offset="0.5861" stop-color="#0b72c2"/><stop offset="0.6275" stop-color="#1390d6"/><stop offset="0.6741" stop-color="#17a6cf"/><stop offset="0.7071" stop-color="#1fae9c"/><stop offset="0.7576" stop-color="#32ae76"/><stop offset="0.8041" stop-color="#66b05a"/><stop offset="0.8362" stop-color="#9aae50"/><stop offset="0.8602" stop-color="#c4a250"/><stop offset="0.8733" stop-color="#f5865a"/><stop offset="0.8888" stop-color="#f98c56"/><stop offset="0.9012" stop-color="#ffb42a"/><stop offset="1.0000" stop-color="#ffc81b"/></linearGradient>
<linearGradient id="e37" gradientUnits="userSpaceOnUse" x1="1127.3" y1="0" x2="1378.6" y2="0"><stop offset="0.0000" stop-color="#1867ba"/><stop offset="0.0280" stop-color="#1867ba"/><stop offset="0.0658" stop-color="#3a3d9b"/><stop offset="0.0956" stop-color="#3a3d9b"/><stop offset="0.1314" stop-color="#0f58b0"/><stop offset="0.2101" stop-color="#0f58b0"/><stop offset="0.2658" stop-color="#0b72c2"/><stop offset="0.4221" stop-color="#0977c5"/><stop offset="0.5903" stop-color="#0b72c2"/><stop offset="0.6308" stop-color="#1390d6"/><stop offset="0.6762" stop-color="#17a6cf"/><stop offset="0.7089" stop-color="#1fae9c"/><stop offset="0.7582" stop-color="#32ae76"/><stop offset="0.8035" stop-color="#66b05a"/><stop offset="0.8356" stop-color="#9aae50"/><stop offset="0.8596" stop-color="#c4a250"/><stop offset="0.8726" stop-color="#f5865a"/><stop offset="0.8880" stop-color="#f98c56"/><stop offset="0.9003" stop-color="#ffb529"/><stop offset="1.0000" stop-color="#ffca1a"/></linearGradient>
<linearGradient id="e38" gradientUnits="userSpaceOnUse" x1="1127.3" y1="0" x2="1378.6" y2="0"><stop offset="0.0000" stop-color="#1867ba"/><stop offset="0.0277" stop-color="#1867ba"/><stop offset="0.0655" stop-color="#3a3d9b"/><stop offset="0.0954" stop-color="#3a3d9b"/><stop offset="0.1312" stop-color="#0f58b0"/><stop offset="0.2107" stop-color="#0f58b0"/><stop offset="0.2664" stop-color="#0b72c2"/><stop offset="0.4245" stop-color="#0977c5"/><stop offset="0.5945" stop-color="#0b72c2"/><stop offset="0.6341" stop-color="#1390d6"/><stop offset="0.6783" stop-color="#17a6cf"/><stop offset="0.7107" stop-color="#1fae9c"/><stop offset="0.7588" stop-color="#32ae76"/><stop offset="0.8029" stop-color="#66b05a"/><stop offset="0.8350" stop-color="#9aae50"/><stop offset="0.8590" stop-color="#c4a250"/><stop offset="0.8719" stop-color="#f5865a"/><stop offset="0.8871" stop-color="#f98c56"/><stop offset="0.8995" stop-color="#ffb528"/><stop offset="1.0000" stop-color="#ffcb18"/></linearGradient>
<linearGradient id="e39" gradientUnits="userSpaceOnUse" x1="1127.3" y1="0" x2="1378.6" y2="0"><stop offset="0.0000" stop-color="#1867ba"/><stop offset="0.0275" stop-color="#1867ba"/><stop offset="0.0653" stop-color="#3a3d9b"/><stop offset="0.0951" stop-color="#3a3d9b"/><stop offset="0.1309" stop-color="#0f58b0"/><stop offset="0.2112" stop-color="#0f58b0"/><stop offset="0.2669" stop-color="#0b72c2"/><stop offset="0.4269" stop-color="#0977c5"/><stop offset="0.5987" stop-color="#0b72c2"/><stop offset="0.6374" stop-color="#1390d6"/><stop offset="0.6804" stop-color="#17a6cf"/><stop offset="0.7125" stop-color="#1fae9c"/><stop offset="0.7594" stop-color="#32ae76"/><stop offset="0.8023" stop-color="#66b05a"/><stop offset="0.8343" stop-color="#9aae50"/><stop offset="0.8584" stop-color="#c4a250"/><stop offset="0.8712" stop-color="#f5865a"/><stop offset="0.8863" stop-color="#f98c56"/><stop offset="0.8986" stop-color="#ffb626"/><stop offset="1.0000" stop-color="#ffcd16"/></linearGradient>
<linearGradient id="e40" gradientUnits="userSpaceOnUse" x1="1127.3" y1="0" x2="1378.6" y2="0"><stop offset="0.0000" stop-color="#1867ba"/><stop offset="0.0273" stop-color="#1867ba"/><stop offset="0.0651" stop-color="#3a3d9b"/><stop offset="0.0950" stop-color="#3a3d9b"/><stop offset="0.1308" stop-color="#0f58b0"/><stop offset="0.2123" stop-color="#0f58b0"/><stop offset="0.2680" stop-color="#0b72c2"/><stop offset="0.4280" stop-color="#0977c5"/><stop offset="0.5998" stop-color="#0b72c2"/><stop offset="0.6387" stop-color="#1390d6"/><stop offset="0.6817" stop-color="#17a6cf"/><stop offset="0.7137" stop-color="#1fae9c"/><stop offset="0.7602" stop-color="#32ae76"/><stop offset="0.8028" stop-color="#66b05a"/><stop offset="0.8345" stop-color="#9aae50"/><stop offset="0.8583" stop-color="#c4a250"/><stop offset="0.8711" stop-color="#f5865a"/><stop offset="0.8862" stop-color="#f98c56"/><stop offset="0.8985" stop-color="#ffb725"/><stop offset="1.0000" stop-color="#ffce15"/></linearGradient>
<linearGradient id="e41" gradientUnits="userSpaceOnUse" x1="1127.3" y1="0" x2="1378.6" y2="0"><stop offset="0.0000" stop-color="#1867ba"/><stop offset="0.0271" stop-color="#1867ba"/><stop offset="0.0650" stop-color="#3a3d9b"/><stop offset="0.0948" stop-color="#3a3d9b"/><stop offset="0.1306" stop-color="#0f58b0"/><stop offset="0.2135" stop-color="#0f58b0"/><stop offset="0.2692" stop-color="#0b72c2"/><stop offset="0.4289" stop-color="#0977c5"/><stop offset="0.6004" stop-color="#0b72c2"/><stop offset="0.6396" stop-color="#1390d6"/><stop offset="0.6829" stop-color="#17a6cf"/><stop offset="0.7149" stop-color="#1fae9c"/><stop offset="0.7611" stop-color="#32ae76"/><stop offset="0.8034" stop-color="#66b05a"/><stop offset="0.8348" stop-color="#9aae50"/><stop offset="0.8583" stop-color="#c4a250"/><stop offset="0.8711" stop-color="#f5865a"/><stop offset="0.8862" stop-color="#f98c56"/><stop offset="0.8985" stop-color="#ffb724"/><stop offset="1.0000" stop-color="#ffd013"/></linearGradient>
<linearGradient id="e42" gradientUnits="userSpaceOnUse" x1="1127.3" y1="0" x2="1378.6" y2="0"><stop offset="0.0000" stop-color="#1867ba"/><stop offset="0.0270" stop-color="#1867ba"/><stop offset="0.0648" stop-color="#3a3d9b"/><stop offset="0.0946" stop-color="#3a3d9b"/><stop offset="0.1305" stop-color="#0f58b0"/><stop offset="0.2147" stop-color="#0f58b0"/><stop offset="0.2704" stop-color="#0b72c2"/><stop offset="0.4297" stop-color="#0977c5"/><stop offset="0.6010" stop-color="#0b72c2"/><stop offset="0.6405" stop-color="#1390d6"/><stop offset="0.6840" stop-color="#17a6cf"/><stop offset="0.7161" stop-color="#1fae9c"/><stop offset="0.7620" stop-color="#32ae76"/><stop offset="0.8040" stop-color="#66b05a"/><stop offset="0.8351" stop-color="#9aae50"/><stop offset="0.8583" stop-color="#c4a250"/><stop offset="0.8711" stop-color="#f5865a"/><stop offset="0.8862" stop-color="#f98c56"/><stop offset="0.8985" stop-color="#ffb823"/><stop offset="1.0000" stop-color="#ffd111"/></linearGradient>
<linearGradient id="e43" gradientUnits="userSpaceOnUse" x1="1127.3" y1="0" x2="1378.6" y2="0"><stop offset="0.0000" stop-color="#1867ba"/><stop offset="0.0268" stop-color="#1867ba"/><stop offset="0.0646" stop-color="#3a3d9b"/><stop offset="0.0945" stop-color="#3a3d9b"/><stop offset="0.1303" stop-color="#0f58b0"/><stop offset="0.2159" stop-color="#0f58b0"/><stop offset="0.2716" stop-color="#0b72c2"/><stop offset="0.4306" stop-color="#0977c5"/><stop offset="0.6016" stop-color="#0b72c2"/><stop offset="0.6413" stop-color="#1390d6"/><stop offset="0.6852" stop-color="#17a6cf"/><stop offset="0.7173" stop-color="#1fae9c"/><stop offset="0.7629" stop-color="#32ae76"/><stop offset="0.8046" stop-color="#66b05a"/><stop offset="0.8354" stop-color="#9aae50"/><stop offset="0.8583" stop-color="#c4a250"/><stop offset="0.8711" stop-color="#f5865a"/><stop offset="0.8862" stop-color="#f98c56"/><stop offset="0.8985" stop-color="#ffb822"/><stop offset="1.0000" stop-color="#ffd310"/></linearGradient>
<linearGradient id="e44" gradientUnits="userSpaceOnUse" x1="1127.3" y1="0" x2="1378.6" y2="0"><stop offset="0.0000" stop-color="#1867ba"/><stop offset="0.0267" stop-color="#1867ba"/><stop offset="0.0645" stop-color="#3a3d9b"/><stop offset="0.0943" stop-color="#3a3d9b"/><stop offset="0.1301" stop-color="#0f58b0"/><stop offset="0.2171" stop-color="#0f58b0"/><stop offset="0.2728" stop-color="#0b72c2"/><stop offset="0.4315" stop-color="#0977c5"/><stop offset="0.6023" stop-color="#0b72c2"/><stop offset="0.6422" stop-color="#1390d6"/><stop offset="0.6864" stop-color="#17a6cf"/><stop offset="0.7184" stop-color="#1fae9c"/><stop offset="0.7638" stop-color="#32ae76"/><stop offset="0.8052" stop-color="#66b05a"/><stop offset="0.8357" stop-color="#9aae50"/><stop offset="0.8583" stop-color="#c4a250"/><stop offset="0.8711" stop-color="#f5865a"/><stop offset="0.8862" stop-color="#f98c56"/><stop offset="0.8985" stop-color="#ffb921"/><stop offset="1.0000" stop-color="#ffd40e"/></linearGradient>
<linearGradient id="e45" gradientUnits="userSpaceOnUse" x1="1127.3" y1="0" x2="1378.6" y2="0"><stop offset="0.0000" stop-color="#1867ba"/><stop offset="0.0265" stop-color="#1867ba"/><stop offset="0.0643" stop-color="#3a3d9b"/><stop offset="0.0942" stop-color="#3a3d9b"/><stop offset="0.1300" stop-color="#0f58b0"/><stop offset="0.2182" stop-color="#0f58b0"/><stop offset="0.2739" stop-color="#0b72c2"/><stop offset="0.4324" stop-color="#0977c5"/><stop offset="0.6029" stop-color="#0b72c2"/><stop offset="0.6431" stop-color="#1390d6"/><stop offset="0.6876" stop-color="#17a6cf"/><stop offset="0.7196" stop-color="#1fae9c"/><stop offset="0.7647" stop-color="#32ae76"/><stop offset="0.8058" stop-color="#66b05a"/><stop offset="0.8361" stop-color="#9aae50"/><stop offset="0.8583" stop-color="#c4a250"/><stop offset="0.8711" stop-color="#f5865a"/><stop offset="0.8862" stop-color="#f98c56"/><stop offset="0.8985" stop-color="#ffba20"/><stop offset="1.0000" stop-color="#ffd60c"/></linearGradient>
<linearGradient id="e46" gradientUnits="userSpaceOnUse" x1="1127.3" y1="0" x2="1378.6" y2="0"><stop offset="0.0000" stop-color="#1867ba"/><stop offset="0.0264" stop-color="#1867ba"/><stop offset="0.0642" stop-color="#3a3d9b"/><stop offset="0.0940" stop-color="#3a3d9b"/><stop offset="0.1298" stop-color="#0f58b0"/><stop offset="0.2194" stop-color="#0f58b0"/><stop offset="0.2751" stop-color="#0b72c2"/><stop offset="0.4333" stop-color="#0977c5"/><stop offset="0.6035" stop-color="#0b72c2"/><stop offset="0.6440" stop-color="#1390d6"/><stop offset="0.6888" stop-color="#17a6cf"/><stop offset="0.7208" stop-color="#1fae9c"/><stop offset="0.7656" stop-color="#32ae76"/><stop offset="0.8064" stop-color="#66b05a"/><stop offset="0.8364" stop-color="#9aae50"/><stop offset="0.8583" stop-color="#c4a250"/><stop offset="0.8711" stop-color="#f5865a"/><stop offset="0.8862" stop-color="#f98c56"/><stop offset="0.8985" stop-color="#ffba1f"/><stop offset="1.0000" stop-color="#ffd70b"/></linearGradient>
<linearGradient id="e47" gradientUnits="userSpaceOnUse" x1="1127.3" y1="0" x2="1378.6" y2="0"><stop offset="0.0000" stop-color="#1867ba"/><stop offset="0.0262" stop-color="#1867ba"/><stop offset="0.0640" stop-color="#3a3d9b"/><stop offset="0.0938" stop-color="#3a3d9b"/><stop offset="0.1297" stop-color="#0f58b0"/><stop offset="0.2206" stop-color="#0f58b0"/><stop offset="0.2763" stop-color="#0b72c2"/><stop offset="0.4342" stop-color="#0977c5"/><stop offset="0.6041" stop-color="#0b72c2"/><stop offset="0.6449" stop-color="#1390d6"/><stop offset="0.6900" stop-color="#17a6cf"/><stop offset="0.7220" stop-color="#1fae9c"/><stop offset="0.7665" stop-color="#32ae76"/><stop offset="0.8070" stop-color="#66b05a"/><stop offset="0.8367" stop-color="#9aae50"/><stop offset="0.8583" stop-color="#c4a250"/><stop offset="0.8711" stop-color="#f5865a"/><stop offset="0.8862" stop-color="#f98c56"/><stop offset="0.8985" stop-color="#ffbb1e"/><stop offset="1.0000" stop-color="#ffd909"/></linearGradient>
<linearGradient id="e48" gradientUnits="userSpaceOnUse" x1="1127.3" y1="0" x2="1378.6" y2="0"><stop offset="0.0000" stop-color="#1867ba"/><stop offset="0.0260" stop-color="#1867ba"/><stop offset="0.0638" stop-color="#3a3d9b"/><stop offset="0.0937" stop-color="#3a3d9b"/><stop offset="0.1295" stop-color="#0f58b0"/><stop offset="0.2218" stop-color="#0f58b0"/><stop offset="0.2775" stop-color="#0b72c2"/><stop offset="0.4351" stop-color="#0977c5"/><stop offset="0.6047" stop-color="#0b72c2"/><stop offset="0.6458" stop-color="#1390d6"/><stop offset="0.6911" stop-color="#17a6cf"/><stop offset="0.7232" stop-color="#1fae9c"/><stop offset="0.7674" stop-color="#32ae76"/><stop offset="0.8076" stop-color="#66b05a"/><stop offset="0.8370" stop-color="#9aae50"/><stop offset="0.8583" stop-color="#c4a250"/><stop offset="0.8711" stop-color="#f5865a"/><stop offset="0.8862" stop-color="#f98c56"/><stop offset="0.8985" stop-color="#ffbb1d"/><stop offset="1.0000" stop-color="#ffda07"/></linearGradient>
<linearGradient id="e49" gradientUnits="userSpaceOnUse" x1="1127.3" y1="0" x2="1378.6" y2="0"><stop offset="0.0000" stop-color="#1867ba"/><stop offset="0.0259" stop-color="#1867ba"/><stop offset="0.0637" stop-color="#3a3d9b"/><stop offset="0.0935" stop-color="#3a3d9b"/><stop offset="0.1293" stop-color="#0f58b0"/><stop offset="0.2230" stop-color="#0f58b0"/><stop offset="0.2787" stop-color="#0b72c2"/><stop offset="0.4360" stop-color="#0977c5"/><stop offset="0.6053" stop-color="#0b72c2"/><stop offset="0.6467" stop-color="#1390d6"/><stop offset="0.6923" stop-color="#17a6cf"/><stop offset="0.7244" stop-color="#1fae9c"/><stop offset="0.7683" stop-color="#32ae76"/><stop offset="0.8082" stop-color="#66b05a"/><stop offset="0.8373" stop-color="#9aae50"/><stop offset="0.8583" stop-color="#c4a250"/><stop offset="0.8711" stop-color="#f5865a"/><stop offset="0.8862" stop-color="#f98c56"/><stop offset="0.8985" stop-color="#ffbc1c"/><stop offset="1.0000" stop-color="#ffdc06"/></linearGradient>
<linearGradient id="e50" gradientUnits="userSpaceOnUse" x1="1127.3" y1="0" x2="1378.6" y2="0"><stop offset="0.0000" stop-color="#1867ba"/><stop offset="0.0257" stop-color="#1867ba"/><stop offset="0.0635" stop-color="#3a3d9b"/><stop offset="0.0934" stop-color="#3a3d9b"/><stop offset="0.1292" stop-color="#0f58b0"/><stop offset="0.2245" stop-color="#0f58b0"/><stop offset="0.2802" stop-color="#0b72c2"/><stop offset="0.4370" stop-color="#0977c5"/><stop offset="0.6057" stop-color="#0b72c2"/><stop offset="0.6474" stop-color="#1390d6"/><stop offset="0.6938" stop-color="#17a6cf"/><stop offset="0.7263" stop-color="#1fae9c"/><stop offset="0.7707" stop-color="#32ae76"/><stop offset="0.8112" stop-color="#66b05a"/><stop offset="0.8400" stop-color="#9aae50"/><stop offset="0.8609" stop-color="#c4a250"/><stop offset="0.8737" stop-color="#f5865a"/><stop offset="0.8889" stop-color="#f98c56"/><stop offset="0.9013" stop-color="#ffbd1b"/><stop offset="1.0000" stop-color="#ffdd04"/></linearGradient>
<linearGradient id="e51" gradientUnits="userSpaceOnUse" x1="1127.3" y1="0" x2="1378.6" y2="0"><stop offset="0.0000" stop-color="#1867ba"/><stop offset="0.0256" stop-color="#1867ba"/><stop offset="0.0634" stop-color="#3a3d9b"/><stop offset="0.0932" stop-color="#3a3d9b"/><stop offset="0.1290" stop-color="#0f58b0"/><stop offset="0.2264" stop-color="#0f58b0"/><stop offset="0.2821" stop-color="#0b72c2"/><stop offset="0.4381" stop-color="#0977c5"/><stop offset="0.6059" stop-color="#0b72c2"/><stop offset="0.6478" stop-color="#1390d6"/><stop offset="0.6956" stop-color="#17a6cf"/><stop offset="0.7293" stop-color="#1fae9c"/><stop offset="0.7752" stop-color="#32ae76"/><stop offset="0.8172" stop-color="#66b05a"/><stop offset="0.8460" stop-color="#9aae50"/><stop offset="0.8669" stop-color="#c4a250"/><stop offset="0.8799" stop-color="#f5865a"/><stop offset="0.8953" stop-color="#f98c56"/><stop offset="0.9076" stop-color="#ffbd19"/><stop offset="1.0000" stop-color="#ffdf02"/></linearGradient>
<linearGradient id="e52" gradientUnits="userSpaceOnUse" x1="1127.3" y1="0" x2="1378.6" y2="0"><stop offset="0.0000" stop-color="#1867ba"/><stop offset="0.0254" stop-color="#1867ba"/><stop offset="0.0632" stop-color="#3a3d9b"/><stop offset="0.0931" stop-color="#3a3d9b"/><stop offset="0.1289" stop-color="#0f58b0"/><stop offset="0.2284" stop-color="#0f58b0"/><stop offset="0.2841" stop-color="#0b72c2"/><stop offset="0.4391" stop-color="#0977c5"/><stop offset="0.6061" stop-color="#0b72c2"/><stop offset="0.6482" stop-color="#1390d6"/><stop offset="0.6974" stop-color="#17a6cf"/><stop offset="0.7323" stop-color="#1fae9c"/><stop offset="0.7797" stop-color="#32ae76"/><stop offset="0.8231" stop-color="#66b05a"/><stop offset="0.8520" stop-color="#9aae50"/><stop offset="0.8729" stop-color="#c4a250"/><stop offset="0.8861" stop-color="#f5865a"/><stop offset="0.9016" stop-color="#f98c56"/><stop offset="0.9140" stop-color="#ffbe18"/><stop offset="1.0000" stop-color="#ffe001"/></linearGradient>
<linearGradient id="e53" gradientUnits="userSpaceOnUse" x1="1127.3" y1="0" x2="1378.6" y2="0"><stop offset="0.0000" stop-color="#1867ba"/><stop offset="0.0253" stop-color="#1867ba"/><stop offset="0.0631" stop-color="#3a3d9b"/><stop offset="0.0929" stop-color="#3a3d9b"/><stop offset="0.1287" stop-color="#0f58b0"/><stop offset="0.2303" stop-color="#0f58b0"/><stop offset="0.2860" stop-color="#0b72c2"/><stop offset="0.4402" stop-color="#0977c5"/><stop offset="0.6063" stop-color="#0b72c2"/><stop offset="0.6486" stop-color="#1390d6"/><stop offset="0.6992" stop-color="#17a6cf"/><stop offset="0.7353" stop-color="#1fae9c"/><stop offset="0.7842" stop-color="#32ae76"/><stop offset="0.8291" stop-color="#66b05a"/><stop offset="0.8579" stop-color="#9aae50"/><stop offset="0.8788" stop-color="#c4a250"/><stop offset="0.8922" stop-color="#f5865a"/><stop offset="0.9080" stop-color="#f98c56"/><stop offset="0.9203" stop-color="#ffbe18"/><stop offset="1.0000" stop-color="#ffe100"/></linearGradient>
<linearGradient id="e54" gradientUnits="userSpaceOnUse" x1="1127.3" y1="0" x2="1378.6" y2="0"><stop offset="0.0000" stop-color="#1867ba"/><stop offset="0.0251" stop-color="#1867ba"/><stop offset="0.0629" stop-color="#393e9c"/><stop offset="0.0927" stop-color="#393e9c"/><stop offset="0.1286" stop-color="#0f58b0"/><stop offset="0.2322" stop-color="#0f58b0"/><stop offset="0.2879" stop-color="#0b72c2"/><stop offset="0.4413" stop-color="#0977c5"/><stop offset="0.6065" stop-color="#0b72c2"/><stop offset="0.6490" stop-color="#1390d6"/><stop offset="0.7010" stop-color="#17a6cf"/><stop offset="0.7383" stop-color="#1fae9c"/><stop offset="0.7887" stop-color="#32ae76"/><stop offset="0.8351" stop-color="#66b05a"/><stop offset="0.8639" stop-color="#9aae50"/><stop offset="0.8848" stop-color="#c4a250"/><stop offset="0.8984" stop-color="#f5865a"/><stop offset="0.9143" stop-color="#f98c56"/><stop offset="0.9267" stop-color="#ffbe18"/><stop offset="1.0000" stop-color="#ffe100"/></linearGradient>
<linearGradient id="e55" gradientUnits="userSpaceOnUse" x1="1127.3" y1="0" x2="1378.6" y2="0"><stop offset="0.0000" stop-color="#1867ba"/><stop offset="0.0249" stop-color="#1867ba"/><stop offset="0.0627" stop-color="#393f9c"/><stop offset="0.0926" stop-color="#393f9c"/><stop offset="0.1284" stop-color="#0f58b0"/><stop offset="0.2342" stop-color="#0f58b0"/><stop offset="0.2899" stop-color="#0b72c2"/><stop offset="0.4423" stop-color="#0977c5"/><stop offset="0.6067" stop-color="#0b72c2"/><stop offset="0.6494" stop-color="#1390d6"/><stop offset="0.7028" stop-color="#17a6cf"/><stop offset="0.7413" stop-color="#1fae9c"/><stop offset="0.7932" stop-color="#32ae76"/><stop offset="0.8410" stop-color="#66b05a"/><stop offset="0.8699" stop-color="#9aae50"/><stop offset="0.8908" stop-color="#c4a250"/><stop offset="0.9045" stop-color="#f5865a"/><stop offset="0.9207" stop-color="#f98c56"/><stop offset="0.9330" stop-color="#ffbd18"/><stop offset="1.0000" stop-color="#ffe000"/></linearGradient>
<linearGradient id="e56" gradientUnits="userSpaceOnUse" x1="1127.3" y1="0" x2="1378.6" y2="0"><stop offset="0.0000" stop-color="#1867ba"/><stop offset="0.0248" stop-color="#1867ba"/><stop offset="0.0626" stop-color="#383f9d"/><stop offset="0.0924" stop-color="#383f9d"/><stop offset="0.1282" stop-color="#0f58b0"/><stop offset="0.2361" stop-color="#0f58b0"/><stop offset="0.2918" stop-color="#0b72c2"/><stop offset="0.4434" stop-color="#0977c5"/><stop offset="0.6069" stop-color="#0b72c2"/><stop offset="0.6498" stop-color="#1390d6"/><stop offset="0.7046" stop-color="#17a6cf"/><stop offset="0.7444" stop-color="#1fae9c"/><stop offset="0.7974" stop-color="#32ae76"/><stop offset="0.8465" stop-color="#66b05a"/><stop offset="0.8753" stop-color="#9aae50"/><stop offset="0.8961" stop-color="#c4a250"/><stop offset="0.9100" stop-color="#f5865a"/><stop offset="0.9264" stop-color="#f98c56"/><stop offset="0.9387" stop-color="#ffbd19"/><stop offset="1.0000" stop-color="#ffe000"/></linearGradient>
<linearGradient id="e57" gradientUnits="userSpaceOnUse" x1="1127.3" y1="0" x2="1378.6" y2="0"><stop offset="0.0000" stop-color="#1867ba"/><stop offset="0.0246" stop-color="#1867ba"/><stop offset="0.0624" stop-color="#38409d"/><stop offset="0.0923" stop-color="#38409d"/><stop offset="0.1281" stop-color="#0f58b0"/><stop offset="0.2381" stop-color="#0f58b0"/><stop offset="0.2938" stop-color="#0b72c2"/><stop offset="0.4445" stop-color="#0977c5"/><stop offset="0.6071" stop-color="#0b72c2"/><stop offset="0.6502" stop-color="#1390d6"/><stop offset="0.7064" stop-color="#17a6cf"/><stop offset="0.7474" stop-color="#1fae9c"/><stop offset="0.8004" stop-color="#32ae76"/><stop offset="0.8494" stop-color="#66b05a"/><stop offset="0.8779" stop-color="#9aae50"/><stop offset="0.8984" stop-color="#c4a250"/><stop offset="0.9123" stop-color="#f5865a"/><stop offset="0.9286" stop-color="#f98c56"/><stop offset="0.9409" stop-color="#ffbd19"/><stop offset="1.0000" stop-color="#ffe000"/></linearGradient>
<linearGradient id="e58" gradientUnits="userSpaceOnUse" x1="1127.3" y1="0" x2="1378.6" y2="0"><stop offset="0.0000" stop-color="#1867ba"/><stop offset="0.0245" stop-color="#1867ba"/><stop offset="0.0623" stop-color="#37419e"/><stop offset="0.0921" stop-color="#37419e"/><stop offset="0.1279" stop-color="#0f58b0"/><stop offset="0.2400" stop-color="#0f58b0"/><stop offset="0.2957" stop-color="#0b72c2"/><stop offset="0.4456" stop-color="#0977c5"/><stop offset="0.6073" stop-color="#0b72c2"/><stop offset="0.6506" stop-color="#1390d6"/><stop offset="0.7082" stop-color="#17a6cf"/><stop offset="0.7504" stop-color="#1fae9c"/><stop offset="0.8034" stop-color="#32ae76"/><stop offset="0.8524" stop-color="#66b05a"/><stop offset="0.8805" stop-color="#9aae50"/><stop offset="0.9006" stop-color="#c4a250"/><stop offset="0.9145" stop-color="#f5865a"/><stop offset="0.9308" stop-color="#f98c56"/><stop offset="0.9432" stop-color="#ffbd19"/><stop offset="1.0000" stop-color="#ffdf00"/></linearGradient>
<linearGradient id="e59" gradientUnits="userSpaceOnUse" x1="1127.3" y1="0" x2="1378.6" y2="0"><stop offset="0.0000" stop-color="#1867ba"/><stop offset="0.0243" stop-color="#1867ba"/><stop offset="0.0621" stop-color="#37419e"/><stop offset="0.0920" stop-color="#37419e"/><stop offset="0.1278" stop-color="#0f58b0"/><stop offset="0.2419" stop-color="#0f58b0"/><stop offset="0.2976" stop-color="#0b72c2"/><stop offset="0.4466" stop-color="#0977c5"/><stop offset="0.6075" stop-color="#0b72c2"/><stop offset="0.6510" stop-color="#1390d6"/><stop offset="0.7100" stop-color="#17a6cf"/><stop offset="0.7534" stop-color="#1fae9c"/><stop offset="0.8063" stop-color="#32ae76"/><stop offset="0.8553" stop-color="#66b05a"/><stop offset="0.8830" stop-color="#9aae50"/><stop offset="0.9028" stop-color="#c4a250"/><stop offset="0.9167" stop-color="#f5865a"/><stop offset="0.9331" stop-color="#f98c56"/><stop offset="0.9454" stop-color="#ffbd19"/><stop offset="1.0000" stop-color="#ffdf00"/></linearGradient>
<linearGradient id="e60" gradientUnits="userSpaceOnUse" x1="1127.3" y1="0" x2="1378.6" y2="0"><stop offset="0.0000" stop-color="#1867ba"/><stop offset="0.0241" stop-color="#1867ba"/><stop offset="0.0620" stop-color="#36429f"/><stop offset="0.0918" stop-color="#36429f"/><stop offset="0.1276" stop-color="#0f58b0"/><stop offset="0.2439" stop-color="#0f58b0"/><stop offset="0.2996" stop-color="#0b72c2"/><stop offset="0.4477" stop-color="#0977c5"/><stop offset="0.6077" stop-color="#0b72c2"/><stop offset="0.6515" stop-color="#1390d6"/><stop offset="0.7118" stop-color="#17a6cf"/><stop offset="0.7564" stop-color="#1fae9c"/><stop offset="0.8093" stop-color="#32ae76"/><stop offset="0.8582" stop-color="#66b05a"/><stop offset="0.8856" stop-color="#9aae50"/><stop offset="0.9051" stop-color="#c4a250"/><stop offset="0.9190" stop-color="#f5865a"/><stop offset="0.9353" stop-color="#f98c56"/><stop offset="0.9476" stop-color="#ffbc19"/><stop offset="1.0000" stop-color="#ffdf00"/></linearGradient>
<linearGradient id="e61" gradientUnits="userSpaceOnUse" x1="1127.3" y1="0" x2="1378.6" y2="0"><stop offset="0.0000" stop-color="#1867ba"/><stop offset="0.0240" stop-color="#1867ba"/><stop offset="0.0618" stop-color="#36429f"/><stop offset="0.0916" stop-color="#36429f"/><stop offset="0.1275" stop-color="#0f58b0"/><stop offset="0.2459" stop-color="#0f58b0"/><stop offset="0.3016" stop-color="#0b72c2"/><stop offset="0.4488" stop-color="#0977c5"/><stop offset="0.6079" stop-color="#0b72c2"/><stop offset="0.6519" stop-color="#1390d6"/><stop offset="0.7125" stop-color="#17a6cf"/><stop offset="0.7571" stop-color="#1fae9c"/><stop offset="0.8114" stop-color="#32ae76"/><stop offset="0.8618" stop-color="#66b05a"/><stop offset="0.8885" stop-color="#9aae50"/><stop offset="0.9073" stop-color="#c4a250"/><stop offset="0.9212" stop-color="#f5865a"/><stop offset="0.9375" stop-color="#f98c56"/><stop offset="0.9499" stop-color="#ffbc19"/><stop offset="1.0000" stop-color="#ffde00"/></linearGradient>
<linearGradient id="e62" gradientUnits="userSpaceOnUse" x1="1127.3" y1="0" x2="1378.6" y2="0"><stop offset="0.0000" stop-color="#1867ba"/><stop offset="0.0238" stop-color="#1867ba"/><stop offset="0.0616" stop-color="#35439f"/><stop offset="0.0915" stop-color="#35439f"/><stop offset="0.1273" stop-color="#0f58b0"/><stop offset="0.2479" stop-color="#0f58b0"/><stop offset="0.3036" stop-color="#0b72c2"/><stop offset="0.4499" stop-color="#0977c5"/><stop offset="0.6081" stop-color="#0b72c2"/><stop offset="0.6523" stop-color="#1390d6"/><stop offset="0.7132" stop-color="#17a6cf"/><stop offset="0.7577" stop-color="#1fae9c"/><stop offset="0.8135" stop-color="#32ae76"/><stop offset="0.8654" stop-color="#66b05a"/><stop offset="0.8914" stop-color="#9aae50"/><stop offset="0.9095" stop-color="#c4a250"/><stop offset="0.9235" stop-color="#f5865a"/><stop offset="0.9398" stop-color="#f98c56"/><stop offset="0.9521" stop-color="#ffbc19"/><stop offset="1.0000" stop-color="#ffde00"/></linearGradient>
<linearGradient id="e63" gradientUnits="userSpaceOnUse" x1="1127.3" y1="0" x2="1378.6" y2="0"><stop offset="0.0000" stop-color="#1867ba"/><stop offset="0.0237" stop-color="#1867ba"/><stop offset="0.0615" stop-color="#3544a0"/><stop offset="0.0913" stop-color="#3544a0"/><stop offset="0.1271" stop-color="#0f58b0"/><stop offset="0.2499" stop-color="#0f58b0"/><stop offset="0.3056" stop-color="#0b72c2"/><stop offset="0.4510" stop-color="#0977c5"/><stop offset="0.6083" stop-color="#0b72c2"/><stop offset="0.6527" stop-color="#1390d6"/><stop offset="0.7138" stop-color="#17a6cf"/><stop offset="0.7584" stop-color="#1fae9c"/><stop offset="0.8157" stop-color="#32ae76"/><stop offset="0.8690" stop-color="#66b05a"/><stop offset="0.8943" stop-color="#9aae50"/><stop offset="0.9118" stop-color="#c4a250"/><stop offset="0.9257" stop-color="#f5865a"/><stop offset="0.9420" stop-color="#f98c56"/><stop offset="0.9543" stop-color="#ffbc1a"/><stop offset="1.0000" stop-color="#ffde00"/></linearGradient>
<linearGradient id="e64" gradientUnits="userSpaceOnUse" x1="1127.3" y1="0" x2="1378.6" y2="0"><stop offset="0.0000" stop-color="#1867ba"/><stop offset="0.0235" stop-color="#1867ba"/><stop offset="0.0613" stop-color="#3444a0"/><stop offset="0.0912" stop-color="#3444a0"/><stop offset="0.1270" stop-color="#0f58b0"/><stop offset="0.2519" stop-color="#0f58b0"/><stop offset="0.3077" stop-color="#0b72c2"/><stop offset="0.4521" stop-color="#0977c5"/><stop offset="0.6085" stop-color="#0b72c2"/><stop offset="0.6531" stop-color="#1390d6"/><stop offset="0.7144" stop-color="#17a6cf"/><stop offset="0.7590" stop-color="#1fae9c"/><stop offset="0.8178" stop-color="#32ae76"/><stop offset="0.8726" stop-color="#66b05a"/><stop offset="0.8973" stop-color="#9aae50"/><stop offset="0.9140" stop-color="#c4a250"/><stop offset="0.9279" stop-color="#f5865a"/><stop offset="0.9442" stop-color="#f98c56"/><stop offset="0.9566" stop-color="#ffbb1a"/><stop offset="1.0000" stop-color="#ffde00"/></linearGradient>
<linearGradient id="e65" gradientUnits="userSpaceOnUse" x1="1127.3" y1="0" x2="1378.6" y2="0"><stop offset="0.0000" stop-color="#1867ba"/><stop offset="0.0234" stop-color="#1867ba"/><stop offset="0.0612" stop-color="#3445a1"/><stop offset="0.0910" stop-color="#3445a1"/><stop offset="0.1268" stop-color="#0f58b0"/><stop offset="0.2540" stop-color="#0f58b0"/><stop offset="0.3097" stop-color="#0b72c2"/><stop offset="0.4532" stop-color="#0977c5"/><stop offset="0.6087" stop-color="#0b72c2"/><stop offset="0.6535" stop-color="#1390d6"/><stop offset="0.7151" stop-color="#17a6cf"/><stop offset="0.7596" stop-color="#1fae9c"/><stop offset="0.8199" stop-color="#32ae76"/><stop offset="0.8761" stop-color="#66b05a"/><stop offset="0.9005" stop-color="#9aae50"/><stop offset="0.9168" stop-color="#c4a250"/><stop offset="0.9304" stop-color="#f5865a"/><stop offset="0.9463" stop-color="#f98c56"/><stop offset="0.9586" stop-color="#ffbb1a"/><stop offset="1.0000" stop-color="#ffdd00"/></linearGradient>
<linearGradient id="e66" gradientUnits="userSpaceOnUse" x1="1127.3" y1="0" x2="1378.6" y2="0"><stop offset="0.0000" stop-color="#1867ba"/><stop offset="0.0232" stop-color="#1867ba"/><stop offset="0.0610" stop-color="#3346a1"/><stop offset="0.0908" stop-color="#3346a1"/><stop offset="0.1267" stop-color="#0f58b0"/><stop offset="0.2560" stop-color="#0f58b0"/><stop offset="0.3117" stop-color="#0b72c2"/><stop offset="0.4544" stop-color="#0977c5"/><stop offset="0.6089" stop-color="#0b72c2"/><stop offset="0.6540" stop-color="#1390d6"/><stop offset="0.7157" stop-color="#17a6cf"/><stop offset="0.7603" stop-color="#1fae9c"/><stop offset="0.8220" stop-color="#32ae76"/><stop offset="0.8797" stop-color="#66b05a"/><stop offset="0.9038" stop-color="#9aae50"/><stop offset="0.9198" stop-color="#c4a250"/><stop offset="0.9329" stop-color="#f5865a"/><stop offset="0.9483" stop-color="#f98c56"/><stop offset="0.9607" stop-color="#ffbb1a"/><stop offset="1.0000" stop-color="#ffdd00"/></linearGradient>
<linearGradient id="e67" gradientUnits="userSpaceOnUse" x1="1127.3" y1="0" x2="1378.6" y2="0"><stop offset="0.0000" stop-color="#1867ba"/><stop offset="0.0230" stop-color="#1867ba"/><stop offset="0.0608" stop-color="#3346a2"/><stop offset="0.0907" stop-color="#3346a2"/><stop offset="0.1265" stop-color="#0f58b0"/><stop offset="0.2580" stop-color="#0f58b0"/><stop offset="0.3137" stop-color="#0b72c2"/><stop offset="0.4555" stop-color="#0977c5"/><stop offset="0.6091" stop-color="#0b72c2"/><stop offset="0.6544" stop-color="#1390d6"/><stop offset="0.7163" stop-color="#17a6cf"/><stop offset="0.7609" stop-color="#1fae9c"/><stop offset="0.8241" stop-color="#32ae76"/><stop offset="0.8833" stop-color="#66b05a"/><stop offset="0.9070" stop-color="#9aae50"/><stop offset="0.9228" stop-color="#c4a250"/><stop offset="0.9354" stop-color="#f5865a"/><stop offset="0.9504" stop-color="#f98c56"/><stop offset="0.9627" stop-color="#ffbb1a"/><stop offset="1.0000" stop-color="#ffdd00"/></linearGradient>
<linearGradient id="e68" gradientUnits="userSpaceOnUse" x1="1127.3" y1="0" x2="1378.6" y2="0"><stop offset="0.0000" stop-color="#1867ba"/><stop offset="0.0229" stop-color="#1867ba"/><stop offset="0.0607" stop-color="#3247a2"/><stop offset="0.0905" stop-color="#3247a2"/><stop offset="0.1263" stop-color="#0f58b0"/><stop offset="0.2600" stop-color="#0f58b0"/><stop offset="0.3157" stop-color="#0b72c2"/><stop offset="0.4566" stop-color="#0977c5"/><stop offset="0.6093" stop-color="#0b72c2"/><stop offset="0.6548" stop-color="#1390d6"/><stop offset="0.7170" stop-color="#17a6cf"/><stop offset="0.7615" stop-color="#1fae9c"/><stop offset="0.8262" stop-color="#32ae76"/><stop offset="0.8869" stop-color="#66b05a"/><stop offset="0.9103" stop-color="#9aae50"/><stop offset="0.9258" stop-color="#c4a250"/><stop offset="0.9379" stop-color="#f5865a"/><stop offset="0.9524" stop-color="#f98c56"/><stop offset="0.9647" stop-color="#ffbb1a"/><stop offset="1.0000" stop-color="#ffdc00"/></linearGradient>
<linearGradient id="e69" gradientUnits="userSpaceOnUse" x1="1127.3" y1="0" x2="1378.6" y2="0"><stop offset="0.0000" stop-color="#1867ba"/><stop offset="0.0227" stop-color="#1867ba"/><stop offset="0.0605" stop-color="#3247a3"/><stop offset="0.0904" stop-color="#3247a3"/><stop offset="0.1262" stop-color="#0f58b0"/><stop offset="0.2621" stop-color="#0f58b0"/><stop offset="0.3178" stop-color="#0b72c2"/><stop offset="0.4577" stop-color="#0977c5"/><stop offset="0.6095" stop-color="#0b72c2"/><stop offset="0.6552" stop-color="#1390d6"/><stop offset="0.7176" stop-color="#17a6cf"/><stop offset="0.7622" stop-color="#1fae9c"/><stop offset="0.8283" stop-color="#32ae76"/><stop offset="0.8905" stop-color="#66b05a"/><stop offset="0.9136" stop-color="#9aae50"/><stop offset="0.9288" stop-color="#c4a250"/><stop offset="0.9404" stop-color="#f5865a"/><stop offset="0.9544" stop-color="#f98c56"/><stop offset="0.9668" stop-color="#ffba1a"/><stop offset="1.0000" stop-color="#ffdc00"/></linearGradient>
<linearGradient id="e70" gradientUnits="userSpaceOnUse" x1="1127.3" y1="0" x2="1378.6" y2="0"><stop offset="0.0000" stop-color="#1867ba"/><stop offset="0.0226" stop-color="#1867ba"/><stop offset="0.0604" stop-color="#3148a3"/><stop offset="0.0902" stop-color="#3148a3"/><stop offset="0.1260" stop-color="#0f58b0"/><stop offset="0.2641" stop-color="#0f58b0"/><stop offset="0.3198" stop-color="#0b72c2"/><stop offset="0.4588" stop-color="#0977c5"/><stop offset="0.6097" stop-color="#0b72c2"/><stop offset="0.6556" stop-color="#1390d6"/><stop offset="0.7183" stop-color="#17a6cf"/><stop offset="0.7628" stop-color="#1fae9c"/><stop offset="0.8304" stop-color="#32ae76"/><stop offset="0.8941" stop-color="#66b05a"/><stop offset="0.9169" stop-color="#9aae50"/><stop offset="0.9318" stop-color="#c4a250"/><stop offset="0.9429" stop-color="#f5865a"/><stop offset="0.9565" stop-color="#f98c56"/><stop offset="0.9688" stop-color="#ffba1b"/><stop offset="1.0000" stop-color="#ffdb01"/></linearGradient>
<linearGradient id="e71" gradientUnits="userSpaceOnUse" x1="1127.3" y1="0" x2="1378.6" y2="0"><stop offset="0.0000" stop-color="#1867ba"/><stop offset="0.0224" stop-color="#1867ba"/><stop offset="0.0602" stop-color="#3049a4"/><stop offset="0.0901" stop-color="#3049a4"/><stop offset="0.1259" stop-color="#0f58b0"/><stop offset="0.2655" stop-color="#0f58b0"/><stop offset="0.3213" stop-color="#0b72c2"/><stop offset="0.4596" stop-color="#0977c5"/><stop offset="0.6099" stop-color="#0b72c2"/><stop offset="0.6561" stop-color="#1390d6"/><stop offset="0.7189" stop-color="#17a6cf"/><stop offset="0.7635" stop-color="#1fae9c"/><stop offset="0.8323" stop-color="#32ae76"/><stop offset="0.8972" stop-color="#66b05a"/><stop offset="0.9199" stop-color="#9aae50"/><stop offset="0.9346" stop-color="#c4a250"/><stop offset="0.9456" stop-color="#f5865a"/><stop offset="0.9589" stop-color="#f98c56"/><stop offset="0.9712" stop-color="#ffba1b"/><stop offset="1.0000" stop-color="#ffda02"/></linearGradient>
<linearGradient id="e72" gradientUnits="userSpaceOnUse" x1="1127.3" y1="0" x2="1378.6" y2="0"><stop offset="0.0000" stop-color="#1867ba"/><stop offset="0.0223" stop-color="#1867ba"/><stop offset="0.0601" stop-color="#2f4ba5"/><stop offset="0.0899" stop-color="#2f4ba5"/><stop offset="0.1257" stop-color="#0f58b0"/><stop offset="0.2665" stop-color="#0f58b0"/><stop offset="0.3222" stop-color="#0b72c2"/><stop offset="0.4602" stop-color="#0977c5"/><stop offset="0.6101" stop-color="#0b72c2"/><stop offset="0.6565" stop-color="#1390d6"/><stop offset="0.7195" stop-color="#17a6cf"/><stop offset="0.7641" stop-color="#1fae9c"/><stop offset="0.8340" stop-color="#32ae76"/><stop offset="0.9000" stop-color="#66b05a"/><stop offset="0.9227" stop-color="#9aae50"/><stop offset="0.9374" stop-color="#c4a250"/><stop offset="0.9483" stop-color="#f5865a"/><stop offset="0.9617" stop-color="#f98c56"/><stop offset="0.9740" stop-color="#ffba1b"/><stop offset="1.0000" stop-color="#ffd902"/></linearGradient>
<linearGradient id="e73" gradientUnits="userSpaceOnUse" x1="1127.3" y1="0" x2="1378.6" y2="0"><stop offset="0.0000" stop-color="#1867ba"/><stop offset="0.0221" stop-color="#1867ba"/><stop offset="0.0599" stop-color="#2e4ca6"/><stop offset="0.0897" stop-color="#2e4ca6"/><stop offset="0.1256" stop-color="#0f58b0"/><stop offset="0.2675" stop-color="#0f58b0"/><stop offset="0.3232" stop-color="#0b72c2"/><stop offset="0.4608" stop-color="#0977c5"/><stop offset="0.6103" stop-color="#0b72c2"/><stop offset="0.6569" stop-color="#1390d6"/><stop offset="0.7202" stop-color="#17a6cf"/><stop offset="0.7647" stop-color="#1fae9c"/><stop offset="0.8357" stop-color="#32ae76"/><stop offset="0.9028" stop-color="#66b05a"/><stop offset="0.9254" stop-color="#9aae50"/><stop offset="0.9402" stop-color="#c4a250"/><stop offset="0.9511" stop-color="#f5865a"/><stop offset="0.9644" stop-color="#f98c56"/><stop offset="0.9768" stop-color="#ffb91b"/><stop offset="1.0026" stop-color="#ffd803"/></linearGradient>
<linearGradient id="e74" gradientUnits="userSpaceOnUse" x1="1127.3" y1="0" x2="1378.6" y2="0"><stop offset="0.0000" stop-color="#1867ba"/><stop offset="0.0219" stop-color="#1867ba"/><stop offset="0.0597" stop-color="#2d4da6"/><stop offset="0.0896" stop-color="#2d4da6"/><stop offset="0.1254" stop-color="#0f58b0"/><stop offset="0.2685" stop-color="#0f58b0"/><stop offset="0.3242" stop-color="#0b72c2"/><stop offset="0.4614" stop-color="#0977c5"/><stop offset="0.6105" stop-color="#0b72c2"/><stop offset="0.6573" stop-color="#1390d6"/><stop offset="0.7208" stop-color="#17a6cf"/><stop offset="0.7654" stop-color="#1fae9c"/><stop offset="0.8374" stop-color="#32ae76"/><stop offset="0.9055" stop-color="#66b05a"/><stop offset="0.9282" stop-color="#9aae50"/><stop offset="0.9429" stop-color="#c4a250"/><stop offset="0.9539" stop-color="#f5865a"/><stop offset="0.9672" stop-color="#f98c56"/><stop offset="0.9796" stop-color="#ffb91b"/><stop offset="1.0054" stop-color="#ffd704"/></linearGradient>
<linearGradient id="e75" gradientUnits="userSpaceOnUse" x1="1127.3" y1="0" x2="1378.6" y2="0"><stop offset="0.0000" stop-color="#1867ba"/><stop offset="0.0218" stop-color="#1867ba"/><stop offset="0.0596" stop-color="#2d4ea7"/><stop offset="0.0894" stop-color="#2d4ea7"/><stop offset="0.1252" stop-color="#0f58b0"/><stop offset="0.2695" stop-color="#0f58b0"/><stop offset="0.3252" stop-color="#0b72c2"/><stop offset="0.4620" stop-color="#0977c5"/><stop offset="0.6107" stop-color="#0b72c2"/><stop offset="0.6577" stop-color="#1390d6"/><stop offset="0.7214" stop-color="#17a6cf"/><stop offset="0.7660" stop-color="#1fae9c"/><stop offset="0.8392" stop-color="#32ae76"/><stop offset="0.9083" stop-color="#66b05a"/><stop offset="0.9310" stop-color="#9aae50"/><stop offset="0.9457" stop-color="#c4a250"/><stop offset="0.9567" stop-color="#f5865a"/><stop offset="0.9700" stop-color="#f98c56"/><stop offset="0.9823" stop-color="#ffb91b"/><stop offset="1.0082" stop-color="#ffd605"/></linearGradient>
<linearGradient id="e76" gradientUnits="userSpaceOnUse" x1="1127.3" y1="0" x2="1378.6" y2="0"><stop offset="0.0000" stop-color="#1867ba"/><stop offset="0.0216" stop-color="#1867ba"/><stop offset="0.0594" stop-color="#2c4fa8"/><stop offset="0.0893" stop-color="#2c4fa8"/><stop offset="0.1251" stop-color="#0f58b0"/><stop offset="0.2705" stop-color="#0f58b0"/><stop offset="0.3262" stop-color="#0b72c2"/><stop offset="0.4626" stop-color="#0977c5"/><stop offset="0.6109" stop-color="#0b72c2"/><stop offset="0.6582" stop-color="#1390d6"/><stop offset="0.7221" stop-color="#17a6cf"/><stop offset="0.7667" stop-color="#1fae9c"/><stop offset="0.8409" stop-color="#32ae76"/><stop offset="0.9111" stop-color="#66b05a"/><stop offset="0.9338" stop-color="#9aae50"/><stop offset="0.9485" stop-color="#c4a250"/><stop offset="0.9594" stop-color="#f5865a"/><stop offset="0.9728" stop-color="#f98c56"/><stop offset="0.9851" stop-color="#ffb91c"/><stop offset="1.0110" stop-color="#ffd505"/></linearGradient>
<linearGradient id="e77" gradientUnits="userSpaceOnUse" x1="1127.3" y1="0" x2="1378.6" y2="0"><stop offset="0.0000" stop-color="#1867ba"/><stop offset="0.0215" stop-color="#1867ba"/><stop offset="0.0593" stop-color="#2b50a9"/><stop offset="0.0891" stop-color="#2b50a9"/><stop offset="0.1249" stop-color="#0f58b0"/><stop offset="0.2714" stop-color="#0f58b0"/><stop offset="0.3272" stop-color="#0b72c2"/><stop offset="0.4632" stop-color="#0977c5"/><stop offset="0.6111" stop-color="#0b72c2"/><stop offset="0.6586" stop-color="#1390d6"/><stop offset="0.7227" stop-color="#17a6cf"/><stop offset="0.7673" stop-color="#1fae9c"/><stop offset="0.8426" stop-color="#32ae76"/><stop offset="0.9139" stop-color="#66b05a"/><stop offset="0.9365" stop-color="#9aae50"/><stop offset="0.9513" stop-color="#c4a250"/><stop offset="0.9622" stop-color="#f5865a"/><stop offset="0.9755" stop-color="#f98c56"/><stop offset="0.9879" stop-color="#ffb91c"/><stop offset="1.0137" stop-color="#ffd406"/></linearGradient>
<linearGradient id="e78" gradientUnits="userSpaceOnUse" x1="1127.3" y1="0" x2="1378.6" y2="0"><stop offset="0.0000" stop-color="#1867ba"/><stop offset="0.0213" stop-color="#1867ba"/><stop offset="0.0591" stop-color="#2a51a9"/><stop offset="0.0890" stop-color="#2a51a9"/><stop offset="0.1248" stop-color="#0f58b0"/><stop offset="0.2724" stop-color="#0f58b0"/><stop offset="0.3281" stop-color="#0b72c2"/><stop offset="0.4638" stop-color="#0977c5"/><stop offset="0.6113" stop-color="#0b72c2"/><stop offset="0.6590" stop-color="#1390d6"/><stop offset="0.7234" stop-color="#17a6cf"/><stop offset="0.7679" stop-color="#1fae9c"/><stop offset="0.8443" stop-color="#32ae76"/><stop offset="0.9166" stop-color="#66b05a"/><stop offset="0.9393" stop-color="#9aae50"/><stop offset="0.9540" stop-color="#c4a250"/><stop offset="0.9650" stop-color="#f5865a"/><stop offset="0.9783" stop-color="#f98c56"/><stop offset="0.9906" stop-color="#ffb81c"/><stop offset="1.0165" stop-color="#ffd307"/></linearGradient>
<linearGradient id="e79" gradientUnits="userSpaceOnUse" x1="1127.3" y1="0" x2="1378.6" y2="0"><stop offset="0.0000" stop-color="#1867ba"/><stop offset="0.0212" stop-color="#1867ba"/><stop offset="0.0590" stop-color="#2952aa"/><stop offset="0.0888" stop-color="#2952aa"/><stop offset="0.1246" stop-color="#0f58b0"/><stop offset="0.2734" stop-color="#0f58b0"/><stop offset="0.3291" stop-color="#0b72c2"/><stop offset="0.4644" stop-color="#0977c5"/><stop offset="0.6115" stop-color="#0b72c2"/><stop offset="0.6594" stop-color="#1390d6"/><stop offset="0.7240" stop-color="#17a6cf"/><stop offset="0.7686" stop-color="#1fae9c"/><stop offset="0.8459" stop-color="#32ae76"/><stop offset="0.9194" stop-color="#66b05a"/><stop offset="0.9420" stop-color="#9aae50"/><stop offset="0.9568" stop-color="#c4a250"/><stop offset="0.9677" stop-color="#f5865a"/><stop offset="0.9810" stop-color="#f98c56"/><stop offset="0.9934" stop-color="#ffb81c"/><stop offset="1.0192" stop-color="#ffd208"/></linearGradient>
<clipPath id="eclip"><rect x="1127.3" y="491.4" width="251.3" height="239.9"/></clipPath>
<filter id="eblur" x="-5%" y="-5%" width="110%" height="110%"><feGaussianBlur stdDeviation="0.8 2.2"/></filter>
</defs>
<rect width="1489" height="798" fill="#ffffff"/>
<g id="panel-a">
<g filter="url(#soft)"><polygon points="37.1,165.5 385.6,165.5 385.6,172.6 37.1,172.6" fill="#4b4b4b"/><polygon points="95.2,50.9 324.0,50.9 385.6,166.0 37.1,166.0" fill="url(#plateV)"/><polygon points="95.2,50.9 324.0,50.9 385.6,166.0 37.1,166.0" fill="url(#plateH)"/></g>
<g filter="url(#soft)"><polygon points="35.7,310.9 389.3,310.9 389.3,318.0 35.7,318.0" fill="#4b4b4b"/><polygon points="94.6,194.1 325.1,194.1 389.3,311.4 35.7,311.4" fill="url(#plateV)"/><polygon points="94.6,194.1 325.1,194.1 389.3,311.4 35.7,311.4" fill="url(#plateH)"/></g>
<g filter="url(#soft)"><polygon points="38.1,459.1 388.7,459.1 388.7,466.3 38.1,466.3" fill="#4b4b4b"/><polygon points="97.3,343.7 325.8,343.7 388.7,459.6 38.1,459.6" fill="url(#plateV)"/><polygon points="97.3,343.7 325.8,343.7 388.7,459.6 38.1,459.6" fill="url(#plateH)"/></g>
<g filter="url(#soft)"><polygon points="44.9,604.7 395.3,604.7 395.3,612.2 44.9,612.2" fill="#4b4b4b"/><polygon points="104.3,488.9 333.0,488.9 395.3,605.2 44.9,605.2" fill="url(#plateV)"/><polygon points="104.3,488.9 333.0,488.9 395.3,605.2 44.9,605.2" fill="url(#plateH)"/></g>
<g filter="url(#soft)"><polygon points="46.2,761.5 397.2,763.0 397.2,770.6 46.2,768.6" fill="#4b4b4b"/><polygon points="111.7,638.9 339.0,639.2 397.2,763.5 46.2,762.0" fill="url(#plateV)"/><polygon points="111.7,638.9 339.0,639.2 397.2,763.5 46.2,762.0" fill="url(#plateH)"/></g>
<ellipse cx="167.4" cy="110.3" rx="7.6" ry="7.6" fill="url(#ball)" filter="url(#soft4)"/>
<ellipse cx="208.6" cy="79.8" rx="7.6" ry="7.6" fill="url(#ball)" filter="url(#soft4)"/>
<ellipse cx="248.8" cy="60.6" rx="7.6" ry="7.9" fill="url(#ball)" filter="url(#soft4)"/>
<ellipse cx="167.2" cy="254.6" rx="12.3" ry="7.4" fill="url(#ball)" filter="url(#soft4)"/>
<ellipse cx="209.9" cy="240.2" rx="7.6" ry="7.8" fill="url(#ball)" filter="url(#soft4)"/>
<ellipse cx="249.7" cy="219.2" rx="7.7" ry="7.9" fill="url(#ball)" filter="url(#soft4)"/>
<ellipse cx="177.2" cy="407.3" rx="28.6" ry="6.2" fill="url(#flat)" filter="url(#soft4)" transform="rotate(0 177.2 407.3)"/>
<ellipse cx="213.0" cy="403.2" rx="11.6" ry="7.9" fill="url(#ball)" filter="url(#soft4)"/>
<ellipse cx="250.5" cy="368.5" rx="7.5" ry="7.8" fill="url(#ball)" filter="url(#soft4)"/>
<ellipse cx="208.2" cy="549.9" rx="43.6" ry="7.0" fill="url(#flat)" filter="url(#soft4)" transform="rotate(0 208.2 549.9)"/>
<ellipse cx="257.0" cy="532.3" rx="7.5" ry="8.0" fill="url(#ball)" filter="url(#soft4)"/>
<ellipse cx="223.6" cy="704.5" rx="64.8" ry="7.3" fill="url(#flat)" filter="url(#soft4)" transform="rotate(0.9 223.6 704.5)"/>
<text x="9.8" y="56.9" font-family="Liberation Sans, sans-serif" font-size="37" font-weight="bold" textLength="17.0" lengthAdjust="spacingAndGlyphs" fill="#000" >a</text>
<text x="128.4" y="83.6" font-family="Liberation Serif, serif" font-size="29" font-weight="bold" textLength="36.4" lengthAdjust="spacingAndGlyphs" fill="#111" >1st</text>
<text x="179.4" y="49.0" font-family="Liberation Serif, serif" font-size="29" font-weight="bold" textLength="46.6" lengthAdjust="spacingAndGlyphs" fill="#111" >2ad</text>
<text x="243.6" y="33.1" font-family="Liberation Serif, serif" font-size="29" font-weight="bold" textLength="44.8" lengthAdjust="spacingAndGlyphs" fill="#111" >3rd</text>
</g>
<g id="panel-b">
<g filter="url(#soft4)">
<rect x="484" y="246.6" width="459.2" height="49.6" fill="#6f6f6f"/>
<rect x="484" y="232.3" width="459.2" height="14.5" fill="url(#subTop)"/>
<g clip-path="url(#domeclip)">
<circle cx="591.0" cy="221.6" r="29" fill="url(#dome)"/>
<circle cx="714.9" cy="221.6" r="29" fill="url(#dome)"/>
<circle cx="838.5" cy="221.6" r="29" fill="url(#dome)"/>
</g></g>
<line x1="591.2" y1="97.6" x2="591.2" y2="296.5" stroke="#e0060b" stroke-width="3.3" stroke-dasharray="8.2 3.4"/>
<line x1="715.2" y1="97.6" x2="715.2" y2="296.5" stroke="#e0060b" stroke-width="3.3" stroke-dasharray="8.2 3.4"/>
<line x1="838.9" y1="97.6" x2="838.9" y2="296.5" stroke="#e0060b" stroke-width="3.3" stroke-dasharray="8.2 3.4"/>
<polygon points="604.2,273.5 619.2,265.9 619.2,271.0 686.6,271.0 686.6,265.9 701.6,273.5 686.6,281.1 686.6,276.0 619.2,276.0 619.2,281.1" fill="#e00000"/>
<polygon points="728.4,273.5 743.4,265.9 743.4,271.0 811.0,271.0 811.0,265.9 826.0,273.5 811.0,281.1 811.0,276.0 743.4,276.0 743.4,281.1" fill="#e00000"/>
<text x="615.4" y="342.0" font-family="Liberation Serif, serif" font-size="29" font-weight="bold" textLength="198.8" lengthAdjust="spacingAndGlyphs" fill="#111" >Droplet spacing</text>
<text x="478.8" y="57.3" font-family="Liberation Sans, sans-serif" font-size="37" font-weight="bold" textLength="21.4" lengthAdjust="spacingAndGlyphs" fill="#000" >b</text>
</g>
<g id="panel-c">
<g filter="url(#soft4)">
<rect x="1054.0" y="52.9" width="414.5" height="278.0" fill="none" stroke="#505050" stroke-width="1.8"/>
<path d="M1054.0 330.9v3.2 M1054.0 52.9v3.2 M1088.5 330.9v5.6 M1088.5 52.9v5.6 M1123.1 330.9v3.2 M1123.1 52.9v3.2 M1157.6 330.9v5.6 M1157.6 52.9v5.6 M1192.2 330.9v3.2 M1192.2 52.9v3.2 M1226.7 330.9v5.6 M1226.7 52.9v5.6 M1261.2 330.9v3.2 M1261.2 52.9v3.2 M1295.8 330.9v5.6 M1295.8 52.9v5.6 M1330.3 330.9v3.2 M1330.3 52.9v3.2 M1364.9 330.9v5.6 M1364.9 52.9v5.6 M1399.4 330.9v3.2 M1399.4 52.9v3.2 M1434.0 330.9v5.6 M1434.0 52.9v5.6 M1468.5 330.9v3.2 M1468.5 52.9v3.2 M1054.0 330.9h-5.6 M1468.5 330.9h-5.6 M1054.0 305.6h-3.2 M1468.5 305.6h-3.2 M1054.0 280.4h-5.6 M1468.5 280.4h-5.6 M1054.0 255.1h-3.2 M1468.5 255.1h-3.2 M1054.0 229.8h-5.6 M1468.5 229.8h-5.6 M1054.0 204.5h-3.2 M1468.5 204.5h-3.2 M1054.0 179.3h-5.6 M1468.5 179.3h-5.6 M1054.0 154.0h-3.2 M1468.5 154.0h-3.2 M1054.0 128.7h-5.6 M1468.5 128.7h-5.6 M1054.0 103.4h-3.2 M1468.5 103.4h-3.2 M1054.0 78.2h-5.6 M1468.5 78.2h-5.6 M1054.0 52.9h-3.2 M1468.5 52.9h-3.2" stroke="#454545" stroke-width="1.7" fill="none"/>
<polyline points="1088.5,75.1 1094.4,82.3 1100.3,89.7 1106.1,97.5 1112.0,105.5 1117.8,113.8 1123.7,122.2 1129.5,130.8 1135.4,139.5 1141.2,148.2 1147.1,157.0 1152.9,165.7 1158.8,174.2 1164.7,182.7 1170.5,191.0 1176.4,199.0 1182.2,206.8 1188.1,214.3 1193.9,221.4 1199.8,228.3 1205.6,234.8 1211.5,240.9 1217.3,246.7 1223.2,252.2 1229.1,257.3 1234.9,262.0 1240.8,266.4 1246.6,270.5 1252.5,274.2 1258.3,277.7 1264.2,280.9 1270.0,283.9 1275.9,286.5 1281.7,289.0 1287.6,291.2 1293.4,293.3 1299.3,295.2 1305.2,296.8 1311.0,298.4 1316.9,299.8 1322.7,301.1 1328.6,302.2 1334.4,303.2 1340.3,304.2 1346.1,305.0 1352.0,305.8 1357.8,306.5 1363.7,307.1 1369.6,307.7 1375.4,308.2 1381.3,308.7 1387.1,309.1 1393.0,309.4 1398.8,309.8 1404.7,310.1 1410.5,310.4 1416.4,310.6 1422.2,310.8 1428.1,311.0 1434.0,311.2" fill="none" stroke="#b9403c" stroke-width="1.35"/>
<path d="M1088.8 66.8V80.2M1085.8 66.8h6M1085.8 80.2h6" stroke="#2a2a2a" stroke-width="1" fill="none"/>
<rect x="1085.0" y="69.8" width="7.6" height="7.6" fill="#0a0a0a"/>
<path d="M1157.4 168.6V175.2M1154.4 168.6h6M1154.4 175.2h6" stroke="#2a2a2a" stroke-width="1" fill="none"/>
<rect x="1153.6000000000001" y="168.0" width="7.6" height="7.6" fill="#0a0a0a"/>
<path d="M1226.6 238.0V253.6M1223.6 238.0h6M1223.6 253.6h6" stroke="#2a2a2a" stroke-width="1" fill="none"/>
<rect x="1222.8" y="242.1" width="7.6" height="7.6" fill="#0a0a0a"/>
<path d="M1295.9 297.0V305.4M1292.9 297.0h6M1292.9 305.4h6" stroke="#2a2a2a" stroke-width="1" fill="none"/>
<rect x="1292.1000000000001" y="297.3" width="7.6" height="7.6" fill="#0a0a0a"/>
<path d="M1364.7 298.0V310.2M1361.7 298.0h6M1361.7 310.2h6" stroke="#2a2a2a" stroke-width="1" fill="none"/>
<rect x="1360.9" y="300.4" width="7.6" height="7.6" fill="#0a0a0a"/>
<path d="M1433.9 303.0V315.4M1430.9 303.0h6M1430.9 315.4h6" stroke="#2a2a2a" stroke-width="1" fill="none"/>
<rect x="1430.1000000000001" y="305.4" width="7.6" height="7.6" fill="#0a0a0a"/>
</g>
<text x="1044.6" y="336.4" font-family="Liberation Sans, sans-serif" font-size="16.6" text-anchor="end" textLength="19.8" lengthAdjust="spacingAndGlyphs" fill="#222222" stroke="#222222" stroke-width="0.3">80</text>
<text x="1044.6" y="285.9" font-family="Liberation Sans, sans-serif" font-size="16.6" text-anchor="end" textLength="29.8" lengthAdjust="spacingAndGlyphs" fill="#222222" stroke="#222222" stroke-width="0.3">120</text>
<text x="1044.6" y="235.3" font-family="Liberation Sans, sans-serif" font-size="16.6" text-anchor="end" textLength="29.8" lengthAdjust="spacingAndGlyphs" fill="#222222" stroke="#222222" stroke-width="0.3">160</text>
<text x="1044.6" y="184.8" font-family="Liberation Sans, sans-serif" font-size="16.6" text-anchor="end" textLength="29.8" lengthAdjust="spacingAndGlyphs" fill="#222222" stroke="#222222" stroke-width="0.3">200</text>
<text x="1044.6" y="134.2" font-family="Liberation Sans, sans-serif" font-size="16.6" text-anchor="end" textLength="29.8" lengthAdjust="spacingAndGlyphs" fill="#222222" stroke="#222222" stroke-width="0.3">240</text>
<text x="1044.6" y="83.7" font-family="Liberation Sans, sans-serif" font-size="16.6" text-anchor="end" textLength="29.8" lengthAdjust="spacingAndGlyphs" fill="#222222" stroke="#222222" stroke-width="0.3">280</text>
<text x="1088.5" y="354.3" font-family="Liberation Sans, sans-serif" font-size="16.6" text-anchor="middle" textLength="19.6" lengthAdjust="spacingAndGlyphs" fill="#222222" stroke="#222222" stroke-width="0.3">10</text>
<text x="1157.6" y="354.3" font-family="Liberation Sans, sans-serif" font-size="16.6" text-anchor="middle" textLength="19.6" lengthAdjust="spacingAndGlyphs" fill="#222222" stroke="#222222" stroke-width="0.3">15</text>
<text x="1226.7" y="354.3" font-family="Liberation Sans, sans-serif" font-size="16.6" text-anchor="middle" textLength="19.6" lengthAdjust="spacingAndGlyphs" fill="#222222" stroke="#222222" stroke-width="0.3">20</text>
<text x="1295.8" y="354.3" font-family="Liberation Sans, sans-serif" font-size="16.6" text-anchor="middle" textLength="19.6" lengthAdjust="spacingAndGlyphs" fill="#222222" stroke="#222222" stroke-width="0.3">25</text>
<text x="1364.9" y="354.3" font-family="Liberation Sans, sans-serif" font-size="16.6" text-anchor="middle" textLength="19.6" lengthAdjust="spacingAndGlyphs" fill="#222222" stroke="#222222" stroke-width="0.3">30</text>
<text x="1434.0" y="354.3" font-family="Liberation Sans, sans-serif" font-size="16.6" text-anchor="middle" textLength="19.6" lengthAdjust="spacingAndGlyphs" fill="#222222" stroke="#222222" stroke-width="0.3">35</text>
<text x="1157.2" y="387.6" font-family="Liberation Sans, sans-serif" font-size="20.8" textLength="210.5" lengthAdjust="spacingAndGlyphs" fill="#222222" stroke="#222222" stroke-width="0.3">Droplet spacing (µm)</text>
<text x="1003.4" y="284.6" font-family="Liberation Sans, sans-serif" font-size="20.8" textLength="158.2" lengthAdjust="spacingAndGlyphs" transform="rotate(-90 1003.4 284.6)" fill="#222222" stroke="#222222" stroke-width="0.3">Line width (µm)</text>
<text x="972.0" y="57.5" font-family="Liberation Sans, sans-serif" font-size="37" font-weight="bold" textLength="18.2" lengthAdjust="spacingAndGlyphs" fill="#000" >c</text>
</g>
<g id="panel-d">
<g filter="url(#soft4)">
<rect x="447.3" y="491.7" width="88.9" height="245.0" fill="url(#stripG)"/>
<rect x="540.4" y="491.7" width="76.0" height="245.0" fill="url(#stripG)"/>
<rect x="620.8" y="491.7" width="63.6" height="245.0" fill="url(#stripG)"/>
<rect x="688.6" y="491.7" width="62.8" height="245.0" fill="url(#stripG)"/>
<rect x="755.9" y="491.7" width="57.1" height="245.0" fill="url(#stripG)"/>
<rect x="817.2" y="491.7" width="54.3" height="245.0" fill="url(#stripG)"/>
<rect x="876.2" y="491.7" width="50.3" height="245.0" fill="url(#stripG)"/>
<rect x="931.3" y="491.7" width="52.5" height="245.0" fill="url(#stripG)"/>
<rect x="988.4" y="491.7" width="55.1" height="245.0" fill="url(#stripG)"/>
</g>
<g filter="url(#lblur)" fill="none" stroke="#000">
<path d="M459.6 492.2Q459.6 614.2 459.6 736.2" stroke-opacity="0.34" stroke-width="2.2"/>
<path d="M528.6 492.2Q528.6 614.2 528.6 736.2" stroke-opacity="0.3" stroke-width="2.2"/>
<path d="M452.0 492.2Q452.0 614.2 452.0 736.2" stroke-opacity="0.07" stroke-width="3"/>
<path d="M533.5 492.2Q533.5 614.2 533.5 736.2" stroke-opacity="0.06" stroke-width="3"/>
<path d="M550.2 492.2Q551.0 614.2 550.2 736.2" stroke-opacity="0.26" stroke-width="2.2"/>
<path d="M601.6 492.2Q610.3 614.2 601.8 736.2" stroke-opacity="0.26" stroke-width="2.2"/>
<path d="M543.5 492.2Q543.5 614.2 543.5 736.2" stroke-opacity="0.09" stroke-width="2.5"/>
<path d="M611.5 492.2Q611.5 614.2 611.5 736.2" stroke-opacity="0.07" stroke-width="2.5"/>
</g>
<g filter="url(#lblur2)" fill="none" stroke="#000">
<path d="M632.3 492.2Q632.3 614.2 632.3 736.2" stroke-opacity="0.17" stroke-width="3.0"/>
<path d="M672.8 492.2Q672.8 614.2 672.8 736.2" stroke-opacity="0.17" stroke-width="3.0"/>
<path d="M625.5 492.2Q625.5 614.2 625.5 736.2" stroke-opacity="0.06" stroke-width="3.0"/>
<path d="M701.0 492.2Q701.0 614.2 701.0 736.2" stroke-opacity="0.14" stroke-width="3.0"/>
<path d="M732.6 492.2Q732.6 614.2 732.6 736.2" stroke-opacity="0.14" stroke-width="3.0"/>
<path d="M768.7 492.2Q768.7 614.2 768.7 736.2" stroke-opacity="0.11" stroke-width="3.0"/>
<path d="M798.4 492.2Q798.4 614.2 798.4 736.2" stroke-opacity="0.11" stroke-width="3.0"/>
<path d="M830.8 492.2Q830.8 614.2 830.8 736.2" stroke-opacity="0.09" stroke-width="3.0"/>
<path d="M861.0 492.2Q861.0 614.2 861.0 736.2" stroke-opacity="0.09" stroke-width="3.0"/>
</g>
<g filter="url(#cblur)" fill="none" stroke="#000" stroke-opacity="0.04" stroke-width="2.4">
<g clip-path="url(#clip7)" stroke-opacity="0.02"><circle cx="902.3" cy="605.0" r="16"/><circle cx="902.3" cy="633.0" r="16"/><circle cx="902.3" cy="661.0" r="16"/><circle cx="902.3" cy="689.0" r="16"/><circle cx="902.3" cy="717.0" r="16"/><circle cx="902.3" cy="745.0" r="16"/></g>
<g clip-path="url(#clip8)"><circle cx="959" cy="628.5" r="16.3"/><circle cx="959" cy="662.5" r="16.3"/><circle cx="959" cy="696.5" r="16.3"/><circle cx="959" cy="730.5" r="16.3"/></g>
<g clip-path="url(#clip9)"><circle cx="1014.6" cy="649.5" r="16.3"/><circle cx="1014.6" cy="688.0" r="16.3"/><circle cx="1014.6" cy="726.5" r="16.3"/></g>
</g>
<rect x="447" y="491.7" width="597" height="245.0" filter="url(#grain)" opacity="0.5" style="mix-blend-mode:multiply" clip-path="url(#stripclip)"/>
<g fill="none" stroke="#151515" stroke-width="2.15" stroke-linecap="round" filter="url(#soft4)">
<circle cx="846.0" cy="518.3" r="15.1" stroke-dasharray="0 3.953" transform="rotate(-97 846.0 518.3)"/>
<circle cx="846.0" cy="536.9" r="15.1" stroke-dasharray="0 3.953" transform="rotate(-92 846.0 536.9)"/>
<circle cx="846.0" cy="555.9" r="15.1" stroke-dasharray="0 3.953" transform="rotate(-87 846.0 555.9)"/>
<circle cx="902.2" cy="521.6" r="15.9" stroke-dasharray="0 4.163" transform="rotate(-82 902.2 521.6)"/>
<circle cx="902.2" cy="549.2" r="15.9" stroke-dasharray="0 4.163" transform="rotate(-77 902.2 549.2)"/>
<circle cx="902.2" cy="576.9" r="15.9" stroke-dasharray="0 4.163" transform="rotate(-72 902.2 576.9)"/>
<circle cx="959.0" cy="526.0" r="15.8" stroke-dasharray="0 4.136" transform="rotate(-67 959.0 526.0)"/>
<circle cx="959.0" cy="560.6" r="15.8" stroke-dasharray="0 4.136" transform="rotate(-62 959.0 560.6)"/>
<circle cx="959.0" cy="594.6" r="15.8" stroke-dasharray="0 4.136" transform="rotate(-57 959.0 594.6)"/>
<circle cx="1014.5" cy="533.5" r="15.6" stroke-dasharray="0 4.084" transform="rotate(-52 1014.5 533.5)"/>
<circle cx="1014.5" cy="571.2" r="15.6" stroke-dasharray="0 4.084" transform="rotate(-47 1014.5 571.2)"/>
<circle cx="1014.5" cy="610.4" r="15.6" stroke-dasharray="0 4.084" transform="rotate(-42 1014.5 610.4)"/>
</g>
<circle cx="913.9" cy="649.4" r="1.6" fill="#000" fill-opacity="0.18" filter="url(#soft)"/>
<rect x="997.8" y="721.7" width="42.8" height="5" fill="#ffffff"/>
<path d="M446.0 460.6V489.2 M538.2 460.6V489.2 M618.2 460.6V489.2 M873.8 460.6V489.2 M986.4 460.6V489.2 M1044.8 460.6V489.2" stroke="#1a1a1a" stroke-width="1.6" fill="none"/>
<text x="491.7" y="464.0" font-family="Liberation Sans, sans-serif" font-size="17.8" text-anchor="middle" textLength="64.3" lengthAdjust="spacingAndGlyphs" fill="#1c1c1c" >Stacked</text>
<text x="489.4" y="484.4" font-family="Liberation Sans, sans-serif" font-size="17.8" text-anchor="middle" textLength="40.4" lengthAdjust="spacingAndGlyphs" fill="#1c1c1c" >coins</text>
<text x="577.2" y="477.7" font-family="Liberation Sans, sans-serif" font-size="17.8" text-anchor="middle" textLength="59.2" lengthAdjust="spacingAndGlyphs" fill="#1c1c1c" >Bulging</text>
<text x="743.0" y="479.2" font-family="Liberation Sans, sans-serif" font-size="17.8" text-anchor="middle" textLength="62.5" lengthAdjust="spacingAndGlyphs" fill="#1c1c1c" >Uniform</text>
<text x="931.7" y="478.2" font-family="Liberation Sans, sans-serif" font-size="17.8" text-anchor="middle" textLength="82.2" lengthAdjust="spacingAndGlyphs" fill="#1c1c1c" >Scalloping</text>
<text x="1010.4" y="486.2" font-family="Liberation Sans, sans-serif" font-size="17.8" textLength="60.8" lengthAdjust="spacingAndGlyphs" transform="rotate(-90 1010.4 486.2)" fill="#1c1c1c" >Isolated</text>
<text x="1032.4" y="486.2" font-family="Liberation Sans, sans-serif" font-size="17.8" textLength="60.8" lengthAdjust="spacingAndGlyphs" transform="rotate(-90 1032.4 486.2)" fill="#1c1c1c" >droplets</text>
<path d="M625 473.6H702M784 473.6H865" stroke="#111" stroke-width="1.5" fill="none"/>
<polygon points="624.0,473.6 632.2,469.8 632.2,477.4" fill="#111"/><polygon points="866.6,473.6 858.4,469.8 858.4,477.4" fill="#111"/>
<text x="491.2" y="755.9" font-family="Liberation Sans, sans-serif" font-size="17.6" text-anchor="middle" textLength="19.6" lengthAdjust="spacingAndGlyphs" fill="#1c1c1c" >15</text>
<text x="575.3" y="755.9" font-family="Liberation Sans, sans-serif" font-size="17.6" text-anchor="middle" textLength="19.6" lengthAdjust="spacingAndGlyphs" fill="#1c1c1c" >25</text>
<text x="652.1" y="755.9" font-family="Liberation Sans, sans-serif" font-size="17.6" text-anchor="middle" textLength="19.6" lengthAdjust="spacingAndGlyphs" fill="#1c1c1c" >35</text>
<text x="719.7" y="755.9" font-family="Liberation Sans, sans-serif" font-size="17.6" text-anchor="middle" textLength="19.6" lengthAdjust="spacingAndGlyphs" fill="#1c1c1c" >45</text>
<text x="784.3" y="755.9" font-family="Liberation Sans, sans-serif" font-size="17.6" text-anchor="middle" textLength="19.6" lengthAdjust="spacingAndGlyphs" fill="#1c1c1c" >55</text>
<text x="846.0" y="755.9" font-family="Liberation Sans, sans-serif" font-size="17.6" text-anchor="middle" textLength="19.6" lengthAdjust="spacingAndGlyphs" fill="#1c1c1c" >65</text>
<text x="903.0" y="755.9" font-family="Liberation Sans, sans-serif" font-size="17.6" text-anchor="middle" textLength="19.6" lengthAdjust="spacingAndGlyphs" fill="#1c1c1c" >75</text>
<text x="960.8" y="755.9" font-family="Liberation Sans, sans-serif" font-size="17.6" text-anchor="middle" textLength="19.6" lengthAdjust="spacingAndGlyphs" fill="#1c1c1c" >85</text>
<text x="1011.6" y="755.9" font-family="Liberation Sans, sans-serif" font-size="17.6" text-anchor="middle" textLength="19.6" lengthAdjust="spacingAndGlyphs" fill="#1c1c1c" >95</text>
<text x="661.8" y="786.8" font-family="Liberation Sans, sans-serif" font-size="17.8" textLength="166.2" lengthAdjust="spacingAndGlyphs" fill="#1c1c1c" >Droplet spacing (µm)</text>
<text x="413.5" y="450.0" font-family="Liberation Sans, sans-serif" font-size="37" font-weight="bold" textLength="21.4" lengthAdjust="spacingAndGlyphs" fill="#000" >d</text>
</g>
<g id="panel-e">
<g clip-path="url(#eclip)"><g filter="url(#eblur)"><rect x="1121.3" y="483.4" width="263.3" height="255.9" fill="#0b72c2"/>
<rect x="1123.3" y="483.40" width="259.3" height="11.60" fill="url(#e0)"/>
<rect x="1123.3" y="491.10" width="259.3" height="3.60" fill="url(#e0)"/>
<rect x="1123.3" y="494.10" width="259.3" height="3.60" fill="url(#e1)"/>
<rect x="1123.3" y="497.10" width="259.3" height="3.60" fill="url(#e2)"/>
<rect x="1123.3" y="500.10" width="259.3" height="3.60" fill="url(#e3)"/>
<rect x="1123.3" y="503.10" width="259.3" height="3.60" fill="url(#e4)"/>
<rect x="1123.3" y="506.10" width="259.3" height="3.60" fill="url(#e5)"/>
<rect x="1123.3" y="509.10" width="259.3" height="3.60" fill="url(#e6)"/>
<rect x="1123.3" y="512.10" width="259.3" height="3.60" fill="url(#e7)"/>
<rect x="1123.3" y="515.10" width="259.3" height="3.60" fill="url(#e8)"/>
<rect x="1123.3" y="518.10" width="259.3" height="3.60" fill="url(#e9)"/>
<rect x="1123.3" y="521.10" width="259.3" height="3.60" fill="url(#e10)"/>
<rect x="1123.3" y="524.10" width="259.3" height="3.60" fill="url(#e11)"/>
<rect x="1123.3" y="527.10" width="259.3" height="3.60" fill="url(#e12)"/>
<rect x="1123.3" y="530.10" width="259.3" height="3.60" fill="url(#e13)"/>
<rect x="1123.3" y="533.10" width="259.3" height="3.60" fill="url(#e14)"/>
<rect x="1123.3" y="536.10" width="259.3" height="3.60" fill="url(#e15)"/>
<rect x="1123.3" y="539.10" width="259.3" height="3.60" fill="url(#e16)"/>
<rect x="1123.3" y="542.10" width="259.3" height="3.60" fill="url(#e17)"/>
<rect x="1123.3" y="545.10" width="259.3" height="3.60" fill="url(#e18)"/>
<rect x="1123.3" y="548.10" width="259.3" height="3.60" fill="url(#e19)"/>
<rect x="1123.3" y="551.10" width="259.3" height="3.60" fill="url(#e20)"/>
<rect x="1123.3" y="554.10" width="259.3" height="3.60" fill="url(#e21)"/>
<rect x="1123.3" y="557.10" width="259.3" height="3.60" fill="url(#e22)"/>
<rect x="1123.3" y="560.10" width="259.3" height="3.60" fill="url(#e23)"/>
<rect x="1123.3" y="563.10" width="259.3" height="3.60" fill="url(#e24)"/>
<rect x="1123.3" y="566.10" width="259.3" height="3.60" fill="url(#e25)"/>
<rect x="1123.3" y="569.10" width="259.3" height="3.60" fill="url(#e26)"/>
<rect x="1123.3" y="572.10" width="259.3" height="3.60" fill="url(#e27)"/>
<rect x="1123.3" y="575.10" width="259.3" height="3.60" fill="url(#e28)"/>
<rect x="1123.3" y="578.10" width="259.3" height="3.60" fill="url(#e29)"/>
<rect x="1123.3" y="581.10" width="259.3" height="3.60" fill="url(#e30)"/>
<rect x="1123.3" y="584.10" width="259.3" height="3.60" fill="url(#e31)"/>
<rect x="1123.3" y="587.10" width="259.3" height="3.60" fill="url(#e32)"/>
<rect x="1123.3" y="590.10" width="259.3" height="3.60" fill="url(#e33)"/>
<rect x="1123.3" y="593.10" width="259.3" height="3.60" fill="url(#e34)"/>
<rect x="1123.3" y="596.10" width="259.3" height="3.60" fill="url(#e35)"/>
<rect x="1123.3" y="599.10" width="259.3" height="3.60" fill="url(#e36)"/>
<rect x="1123.3" y="602.10" width="259.3" height="3.60" fill="url(#e37)"/>
<rect x="1123.3" y="605.10" width="259.3" height="3.60" fill="url(#e38)"/>
<rect x="1123.3" y="608.10" width="259.3" height="3.60" fill="url(#e39)"/>
<rect x="1123.3" y="611.10" width="259.3" height="3.60" fill="url(#e40)"/>
<rect x="1123.3" y="614.10" width="259.3" height="3.60" fill="url(#e41)"/>
<rect x="1123.3" y="617.10" width="259.3" height="3.60" fill="url(#e42)"/>
<rect x="1123.3" y="620.10" width="259.3" height="3.60" fill="url(#e43)"/>
<rect x="1123.3" y="623.10" width="259.3" height="3.60" fill="url(#e44)"/>
<rect x="1123.3" y="626.10" width="259.3" height="3.60" fill="url(#e45)"/>
<rect x="1123.3" y="629.10" width="259.3" height="3.60" fill="url(#e46)"/>
<rect x="1123.3" y="632.10" width="259.3" height="3.60" fill="url(#e47)"/>
<rect x="1123.3" y="635.10" width="259.3" height="3.60" fill="url(#e48)"/>
<rect x="1123.3" y="638.10" width="259.3" height="3.60" fill="url(#e49)"/>
<rect x="1123.3" y="641.10" width="259.3" height="3.60" fill="url(#e50)"/>
<rect x="1123.3" y="644.10" width="259.3" height="3.60" fill="url(#e51)"/>
<rect x="1123.3" y="647.10" width="259.3" height="3.60" fill="url(#e52)"/>
<rect x="1123.3" y="650.10" width="259.3" height="3.60" fill="url(#e53)"/>
<rect x="1123.3" y="653.10" width="259.3" height="3.60" fill="url(#e54)"/>
<rect x="1123.3" y="656.10" width="259.3" height="3.60" fill="url(#e55)"/>
<rect x="1123.3" y="659.10" width="259.3" height="3.60" fill="url(#e56)"/>
<rect x="1123.3" y="662.10" width="259.3" height="3.60" fill="url(#e57)"/>
<rect x="1123.3" y="665.10" width="259.3" height="3.60" fill="url(#e58)"/>
<rect x="1123.3" y="668.10" width="259.3" height="3.60" fill="url(#e59)"/>
<rect x="1123.3" y="671.10" width="259.3" height="3.60" fill="url(#e60)"/>
<rect x="1123.3" y="674.10" width="259.3" height="3.60" fill="url(#e61)"/>
<rect x="1123.3" y="677.10" width="259.3" height="3.60" fill="url(#e62)"/>
<rect x="1123.3" y="680.10" width="259.3" height="3.60" fill="url(#e63)"/>
<rect x="1123.3" y="683.10" width="259.3" height="3.60" fill="url(#e64)"/>
<rect x="1123.3" y="686.10" width="259.3" height="3.60" fill="url(#e65)"/>
<rect x="1123.3" y="689.10" width="259.3" height="3.60" fill="url(#e66)"/>
<rect x="1123.3" y="692.10" width="259.3" height="3.60" fill="url(#e67)"/>
<rect x="1123.3" y="695.10" width="259.3" height="3.60" fill="url(#e68)"/>
<rect x="1123.3" y="698.10" width="259.3" height="3.60" fill="url(#e69)"/>
<rect x="1123.3" y="701.10" width="259.3" height="3.60" fill="url(#e70)"/>
<rect x="1123.3" y="704.10" width="259.3" height="3.60" fill="url(#e71)"/>
<rect x="1123.3" y="707.10" width="259.3" height="3.60" fill="url(#e72)"/>
<rect x="1123.3" y="710.10" width="259.3" height="3.60" fill="url(#e73)"/>
<rect x="1123.3" y="713.10" width="259.3" height="3.60" fill="url(#e74)"/>
<rect x="1123.3" y="716.10" width="259.3" height="3.60" fill="url(#e75)"/>
<rect x="1123.3" y="719.10" width="259.3" height="3.60" fill="url(#e76)"/>
<rect x="1123.3" y="722.10" width="259.3" height="3.60" fill="url(#e77)"/>
<rect x="1123.3" y="725.10" width="259.3" height="3.60" fill="url(#e78)"/>
<rect x="1123.3" y="728.10" width="259.3" height="3.50" fill="url(#e79)"/>
<rect x="1123.3" y="728.10" width="259.3" height="13.50" fill="url(#e79)"/>
</g></g>
<path d="M1175.9 492.4 L1176.1 498.5 L1176.4 504.6 L1176.7 510.7 L1177.1 516.8 L1177.9 522.9 L1178.7 529.0 L1179.5 535.1 L1180.3 541.2 L1181.0 547.3 L1181.8 553.4 L1182.5 559.5 L1183.3 565.6 L1184.0 571.7 L1184.8 577.8 L1185.1 583.9 L1185.4 590.0 L1185.7 596.1 L1186.0 602.2 L1186.3 608.3 L1186.8 614.4 L1187.4 620.5 L1188.0 626.6 L1188.6 632.7 L1189.2 638.8 L1190.0 644.9 L1191.0 651.0 L1192.0 657.1 L1193.0 663.2 L1194.0 669.3 L1195.0 675.4 L1196.0 681.5 L1197.1 687.6 L1198.1 693.7 L1199.1 699.8 L1200.0 705.9 L1200.5 712.0 L1201.0 718.1 L1201.5 724.2 L1202.0 730.3" fill="none" stroke="#ffffff" stroke-width="1.5" stroke-dasharray="5 3.3"/>
<path d="M1255.7 492.4 L1256.0 498.5 L1256.3 504.6 L1256.6 510.7 L1256.9 516.8 L1257.2 522.9 L1257.5 529.0 L1257.9 535.1 L1258.2 541.2 L1258.5 547.3 L1259.4 553.4 L1260.4 559.5 L1261.4 565.6 L1262.3 571.7 L1264.2 577.8 L1266.3 583.9 L1268.3 590.0 L1270.7 596.1 L1273.2 602.2 L1275.8 608.3 L1277.4 614.4 L1278.7 620.5 L1279.8 626.6 L1279.9 632.7 L1280.0 638.8 L1280.2 644.9 L1280.3 651.0 L1280.4 657.1 L1280.5 663.2 L1280.6 669.3 L1280.7 675.4 L1280.8 681.5 L1280.9 687.6 L1280.9 693.7 L1281.0 699.8 L1281.0 705.9 L1281.1 712.0 L1281.2 718.1 L1281.2 724.2 L1281.3 730.3" fill="none" stroke="#ffffff" stroke-width="1.5" stroke-dasharray="5 3.3"/>
<rect x="1127.3" y="491.4" width="251.3" height="239.9" fill="none" stroke="#0a0a0a" stroke-width="2.4" stroke-linejoin="round"/>
<path d="M1139.9 731.3v-3M1139.9 491.4v3 M1165.0 731.3v-3M1165.0 491.4v3 M1190.1 731.3v-3M1190.1 491.4v3 M1215.3 731.3v-3M1215.3 491.4v3 M1240.4 731.3v-3M1240.4 491.4v3 M1265.5 731.3v-3M1265.5 491.4v3 M1290.6 731.3v-3M1290.6 491.4v3 M1315.8 731.3v-3M1315.8 491.4v3 M1340.9 731.3v-3M1340.9 491.4v3 M1366.0 731.3v-3M1366.0 491.4v3 M1127.3 711.3h3M1378.6 711.3h-3 M1127.3 691.3h3M1378.6 691.3h-3 M1127.3 671.3h3M1378.6 671.3h-3 M1127.3 651.3h3M1378.6 651.3h-3 M1127.3 631.3h3M1378.6 631.3h-3 M1127.3 611.3h3M1378.6 611.3h-3 M1127.3 591.4h3M1378.6 591.4h-3 M1127.3 571.4h3M1378.6 571.4h-3 M1127.3 551.4h3M1378.6 551.4h-3 M1127.3 531.4h3M1378.6 531.4h-3 M1127.3 511.4h3M1378.6 511.4h-3" stroke="#0a0a0a" stroke-width="1.5" fill="none"/>
<text x="1119.0" y="737.3" font-family="Liberation Sans, sans-serif" font-size="17.4" text-anchor="end" textLength="19.3" lengthAdjust="spacingAndGlyphs" fill="#1c1c1c" >30</text>
<text x="1119.0" y="697.3" font-family="Liberation Sans, sans-serif" font-size="17.4" text-anchor="end" textLength="19.3" lengthAdjust="spacingAndGlyphs" fill="#1c1c1c" >35</text>
<text x="1119.0" y="657.3" font-family="Liberation Sans, sans-serif" font-size="17.4" text-anchor="end" textLength="19.3" lengthAdjust="spacingAndGlyphs" fill="#1c1c1c" >40</text>
<text x="1119.0" y="617.3" font-family="Liberation Sans, sans-serif" font-size="17.4" text-anchor="end" textLength="19.3" lengthAdjust="spacingAndGlyphs" fill="#1c1c1c" >45</text>
<text x="1119.0" y="577.4" font-family="Liberation Sans, sans-serif" font-size="17.4" text-anchor="end" textLength="19.3" lengthAdjust="spacingAndGlyphs" fill="#1c1c1c" >50</text>
<text x="1119.0" y="537.4" font-family="Liberation Sans, sans-serif" font-size="17.4" text-anchor="end" textLength="19.3" lengthAdjust="spacingAndGlyphs" fill="#1c1c1c" >55</text>
<text x="1119.0" y="497.4" font-family="Liberation Sans, sans-serif" font-size="17.4" text-anchor="end" textLength="19.3" lengthAdjust="spacingAndGlyphs" fill="#1c1c1c" >60</text>
<text x="1140.3" y="755.6" font-family="Liberation Sans, sans-serif" font-size="17.4" text-anchor="middle" textLength="19.3" lengthAdjust="spacingAndGlyphs" fill="#1c1c1c" >20</text>
<text x="1190.5" y="755.6" font-family="Liberation Sans, sans-serif" font-size="17.4" text-anchor="middle" textLength="19.3" lengthAdjust="spacingAndGlyphs" fill="#1c1c1c" >40</text>
<text x="1240.8" y="755.6" font-family="Liberation Sans, sans-serif" font-size="17.4" text-anchor="middle" textLength="19.3" lengthAdjust="spacingAndGlyphs" fill="#1c1c1c" >60</text>
<text x="1291.0" y="755.6" font-family="Liberation Sans, sans-serif" font-size="17.4" text-anchor="middle" textLength="19.3" lengthAdjust="spacingAndGlyphs" fill="#1c1c1c" >80</text>
<text x="1341.3" y="755.6" font-family="Liberation Sans, sans-serif" font-size="17.4" text-anchor="middle" textLength="29.0" lengthAdjust="spacingAndGlyphs" fill="#1c1c1c" >100</text>
<text x="1170.6" y="783.4" font-family="Liberation Sans, sans-serif" font-size="17.8" textLength="166.0" lengthAdjust="spacingAndGlyphs" fill="#1c1c1c" >Droplet spacing (µm)</text>
<text x="1075.2" y="681.0" font-family="Liberation Sans, sans-serif" font-size="17.6" textLength="136.0" lengthAdjust="spacingAndGlyphs" transform="rotate(-90 1075.2 681.0)" fill="#1c1c1c" >Temperature (°C)</text>
<text x="1140.5" y="543.0" font-family="Liberation Sans, sans-serif" font-size="17.6" textLength="111.0" lengthAdjust="spacingAndGlyphs" transform="rotate(90 1140.5 543.0)" fill="#dccdf6" >Stacked coins</text>
<text x="1160.6" y="569.8" font-family="Liberation Sans, sans-serif" font-size="17.6" textLength="58.5" lengthAdjust="spacingAndGlyphs" transform="rotate(90 1160.6 569.8)" fill="#cfe4ff" >Bulging</text>
<text x="1206.8" y="576.6" font-family="Liberation Sans, sans-serif" font-size="17.6" textLength="61.6" lengthAdjust="spacingAndGlyphs" transform="rotate(80.5 1206.8 576.6)" fill="#c4ecff" >Uniform</text>
<text x="1286.2" y="571.4" font-family="Liberation Sans, sans-serif" font-size="17.6" textLength="81.2" lengthAdjust="spacingAndGlyphs" transform="rotate(82.3 1286.2 571.4)" fill="#b4f6e2" >Scalloping</text>
<text x="1323.5" y="504.2" font-family="Liberation Sans, sans-serif" font-size="17.8" textLength="62.5" lengthAdjust="spacingAndGlyphs" transform="rotate(48.8 1323.5 504.2)" fill="#fff2ec" >Isolated</text>
<text x="1306.3" y="520.5" font-family="Liberation Sans, sans-serif" font-size="17.8" textLength="63.2" lengthAdjust="spacingAndGlyphs" transform="rotate(47.5 1306.3 520.5)" fill="#fff0ea" >droplets</text>
<text x="1429.0" y="506.1" font-family="Liberation Sans, sans-serif" font-size="17.4" textLength="19.3" lengthAdjust="spacingAndGlyphs" fill="#1c1c1c" >50</text>
<text x="1429.0" y="543.6" font-family="Liberation Sans, sans-serif" font-size="17.4" textLength="19.3" lengthAdjust="spacingAndGlyphs" fill="#1c1c1c" >40</text>
<text x="1429.0" y="582.2" font-family="Liberation Sans, sans-serif" font-size="17.4" textLength="19.3" lengthAdjust="spacingAndGlyphs" fill="#1c1c1c" >30</text>
<text x="1429.0" y="620.0" font-family="Liberation Sans, sans-serif" font-size="17.4" textLength="19.3" lengthAdjust="spacingAndGlyphs" fill="#1c1c1c" >20</text>
<text x="1429.0" y="658.2" font-family="Liberation Sans, sans-serif" font-size="17.4" textLength="19.3" lengthAdjust="spacingAndGlyphs" fill="#1c1c1c" >10</text>
<text x="1429.0" y="680.3" font-family="Liberation Sans, sans-serif" font-size="17.4" textLength="9.6" lengthAdjust="spacingAndGlyphs" fill="#1c1c1c" >2</text>
<text x="1429.0" y="695.0" font-family="Liberation Sans, sans-serif" font-size="17.4" textLength="19.3" lengthAdjust="spacingAndGlyphs" fill="#1c1c1c" >−2</text>
<text x="1429.0" y="727.6" font-family="Liberation Sans, sans-serif" font-size="17.4" textLength="29.9" lengthAdjust="spacingAndGlyphs" fill="#1c1c1c" >−10</text>
<text x="1476.4" y="686.6" font-family="Liberation Sans, sans-serif" font-size="17.8" textLength="132.6" lengthAdjust="spacingAndGlyphs" transform="rotate(-90 1476.4 686.6)" fill="#1c1c1c" >Roughness (µm)</text>
<text x="1060.5" y="449.5" font-family="Liberation Sans, sans-serif" font-size="37" font-weight="bold" textLength="20.0" lengthAdjust="spacingAndGlyphs" fill="#000" >e</text>
</g>
</svg>
</body></html>
